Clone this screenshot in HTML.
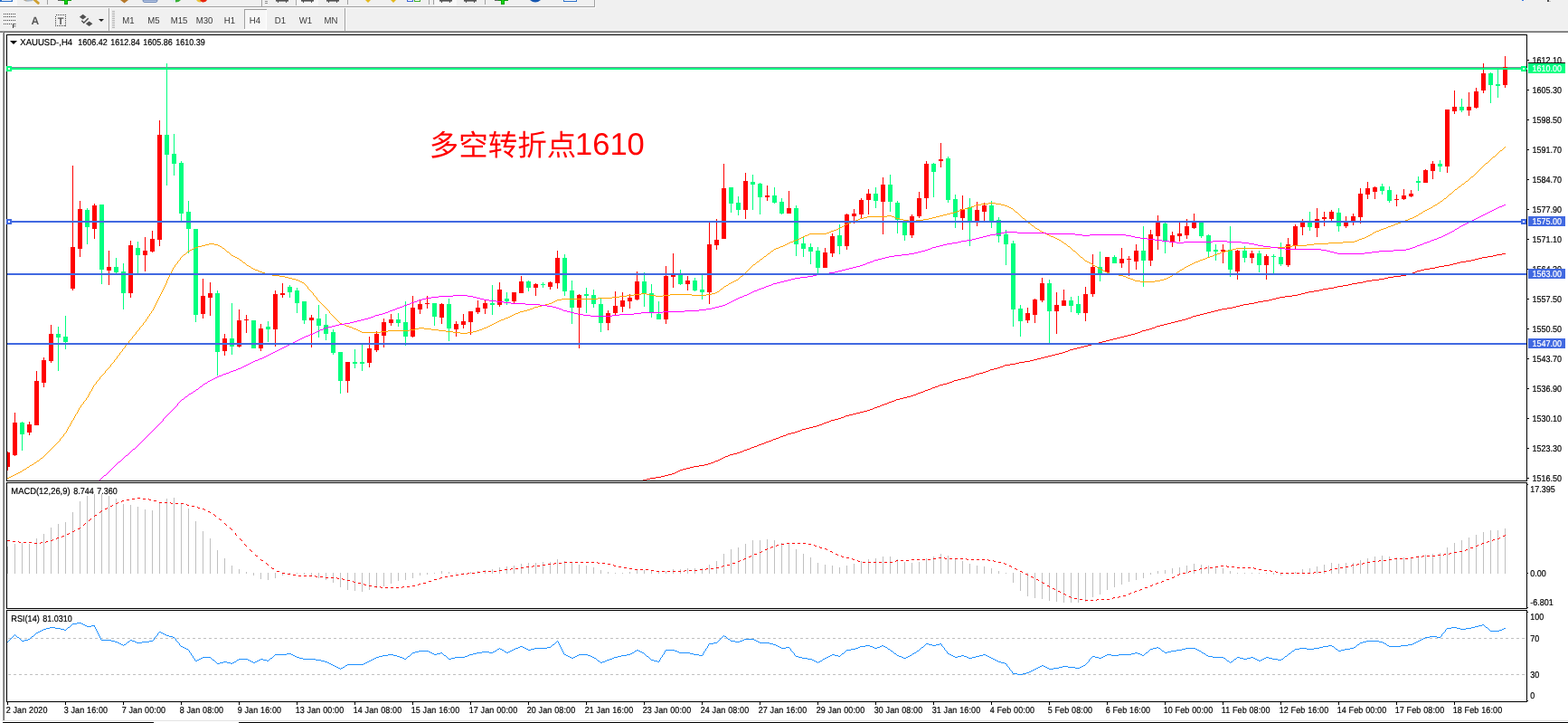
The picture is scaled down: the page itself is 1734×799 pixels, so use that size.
<!DOCTYPE html>
<html lang="zh"><head><meta charset="utf-8"><title>XAUUSD-,H4</title>
<style>
html,body{margin:0;padding:0;background:#f0f0f0}
body{width:1734px;height:799px;overflow:hidden;position:relative}
svg{display:block;position:absolute;left:0;top:0;font-family:"Liberation Sans","Noto Sans CJK SC",sans-serif;font-size:9px;text-rendering:geometricPrecision}
</style></head>
<body>
<svg width="1734" height="799" viewBox="0 0 1734 799">
<rect x="0" y="0" width="1734" height="799" fill="#f0f0f0"/>
<rect x="0" y="7" width="658" height="1" fill="#a0a0a0"/>
<rect x="0" y="8" width="659" height="1" fill="#fafafa"/>
<rect x="657" y="0" width="1" height="8" fill="#a0a0a0"/>
<rect x="658" y="0" width="1" height="9" fill="#fafafa"/>
<rect x="0" y="33" width="1734" height="1" fill="#f6f6f6"/>
<rect x="1683" y="0" width="2" height="1" fill="#3a78e0"/>
<rect x="1711" y="0" width="2" height="2" fill="#505050"/>
<rect x="1713" y="1" width="2" height="1" fill="#c0c0c0"/>
<rect x="0" y="34" width="1734" height="1" fill="#a0a0a0"/>
<rect x="0" y="35" width="1734" height="1" fill="#696969"/>
<rect x="0" y="36" width="3" height="761" fill="#fbfbfb"/>
<rect x="3" y="35" width="1" height="762" fill="#a0a0a0"/>
<rect x="4" y="35" width="1" height="762" fill="#696969"/>
<rect x="5" y="36" width="1729" height="761" fill="#ffffff"/>
<rect x="2" y="796" width="1732" height="1" fill="#e3e3e3"/>
<rect x="0" y="797" width="1734" height="2" fill="#ffffff"/>
<rect x="3" y="798" width="167" height="1" fill="#000"/>
<rect x="264" y="798" width="1470" height="1" fill="#000"/>
<g id="toolbar1">
<rect x="0" y="0" width="19" height="6" fill="#f8f8f8"/>
<rect x="0" y="0" width="14" height="2" fill="#2a6fc9"/>
<rect x="2" y="0" width="10.7" height="0.9" fill="#ffffff"/>
<path d="M26 0q2.500 2 6 1.600q3.500 0 5.500-1.600z" fill="#a8b8c8"/><path d="M26 0q1.500 1.300 3.500 1.500v-1.500z" fill="#b4a890"/>
<path d="M38.300 0l4 3.400" stroke="#cfa032" stroke-width="2.800" stroke-linecap="round"/>
<rect x="52" y="0" width="1" height="5" fill="#a0a0a0"/>
<rect x="64" y="0" width="15" height="1" fill="#0a9a0a"/>
<rect x="71" y="0" width="4" height="5" fill="#08a008"/>
<rect x="72" y="0" width="2" height="4" fill="#10d810"/>
<rect x="64" y="0" width="4" height="1" fill="#606060"/>
<path d="M133 0h9l-4.5 3.5z" fill="#b5782a"/>
<path d="M158 0v0.5q0 2 2 2h12q2 0 2-2v-0.5z" fill="#b6c6e4" stroke="#5b78ad" stroke-width="0.8"/>
<path d="M188 0q3 3 6 2.5v-2.5z" fill="#e4ecf8"/><path d="M194 0v2.5q4 0 6-2.5z" fill="#35b035"/>
<path d="M217 0q2 3 5 2.5v-2.5z" fill="#e8c43a"/><path d="M221 0q2 3 4 2.5q3 -0.3 4-2.5z" fill="#e8240c"/>
<rect x="289" y="0" width="1" height="8" fill="#a0a0a0"/>
<rect x="293" y="1" width="3" height="1" fill="#909090"/>
<rect x="293" y="3" width="3" height="1" fill="#909090"/>
<rect x="305" y="0" width="14" height="1.6" fill="#505050"/>
<rect x="307" y="1" width="1" height="2" fill="#505050"/>
<rect x="316" y="1" width="1" height="2" fill="#505050"/>
<rect x="327" y="0" width="25" height="6" fill="#f8f8f8"/>
<rect x="327" y="0" width="1" height="6" fill="#a8a8a8"/>
<rect x="333" y="0" width="14" height="1.6" fill="#505050"/>
<rect x="335" y="1" width="1" height="2" fill="#505050"/>
<rect x="344" y="1" width="1" height="2" fill="#505050"/>
<rect x="361" y="0" width="14" height="1.6" fill="#505050"/>
<rect x="363" y="1" width="1" height="2" fill="#505050"/>
<rect x="372" y="1" width="1" height="2" fill="#505050"/>
<rect x="384" y="0" width="1" height="5" fill="#a0a0a0"/>
<path d="M404 0h6l-3 3z" fill="#e3b81c"/>
<path d="M432 0h6l-3 3z" fill="#e3b81c"/>
<rect x="450" y="0" width="7" height="2" fill="#3a66d8"/>
<rect x="451" y="0" width="5" height="1" fill="#ffffff"/>
<rect x="458" y="0" width="7" height="2" fill="#3fae2a"/>
<rect x="459" y="0" width="5" height="1" fill="#ffffff"/>
<rect x="474" y="0" width="1" height="5" fill="#a0a0a0"/>
<rect x="479" y="0" width="1" height="5" fill="#a0a0a0"/>
<rect x="481" y="0" width="24" height="6" fill="#f8f8f8"/>
<rect x="486" y="0" width="14" height="1.6" fill="#505050"/>
<rect x="488" y="1" width="1" height="2" fill="#505050"/>
<rect x="497" y="1" width="1" height="2" fill="#505050"/>
<rect x="513" y="0" width="14" height="1.6" fill="#505050"/>
<rect x="515" y="1" width="1" height="2" fill="#505050"/>
<rect x="524" y="1" width="1" height="2" fill="#505050"/>
<rect x="536" y="0" width="1" height="5" fill="#a0a0a0"/>
<rect x="547" y="0" width="15" height="1" fill="#0a9a0a"/>
<rect x="554" y="0" width="4" height="5" fill="#08a008"/>
<rect x="555" y="0" width="2" height="4" fill="#10d810"/>
<rect x="547" y="0" width="4" height="1" fill="#606060"/>
<path d="M586 0q6 5 12 0z" fill="#1556b0"/>
<rect x="623" y="0" width="15" height="2" fill="#2a6fc9"/>
<rect x="624" y="0" width="13" height="1" fill="#ffffff"/>
</g>
<g id="toolbar2">
<line x1="4" y1="15.5" x2="17" y2="15.5" stroke="#404040" stroke-width="1" stroke-dasharray="1 1" shape-rendering="crispEdges"/>
<line x1="4" y1="18.5" x2="17" y2="18.5" stroke="#404040" stroke-width="1" stroke-dasharray="1 1" shape-rendering="crispEdges"/>
<line x1="4" y1="22.5" x2="17" y2="22.5" stroke="#404040" stroke-width="1" stroke-dasharray="1 1" shape-rendering="crispEdges"/>
<line x1="4" y1="26.5" x2="13" y2="26.5" stroke="#404040" stroke-width="1" stroke-dasharray="1 1" shape-rendering="crispEdges"/>
<text x="13.5" y="31" font-size="7" font-weight="bold" fill="#404040">F</text>
<text x="34.5" y="27" font-size="12" font-weight="bold" fill="#5a5a5a">A</text>
<rect x="61.5" y="16.5" width="11" height="12" fill="none" stroke="#404040" stroke-dasharray="1 1" shape-rendering="crispEdges"/>
<text x="67" y="27" font-size="11" font-weight="bold" fill="#5a5a5a" text-anchor="middle">T</text>
<path d="M91.700 15.800l3.800 2.900l-3.800 2.900l-3.800-2.900z" fill="#505050"/>
<path d="M98.600 23.400l3.800 2.800l-3.800 2.800l-3.800-2.800z" fill="#505050"/>
<path d="M90.300 22.800l2.400 2.400l5-5" fill="none" stroke="#505050" stroke-width="1.500"/>
<path d="M109 21h6l-3 3z" fill="#202020"/>
<rect x="120" y="9" width="1" height="25" fill="#a0a0a0"/>
<rect x="121" y="9" width="1" height="25" fill="#fafafa"/>
<rect x="124" y="12" width="3" height="1" fill="#b4b4b4"/>
<rect x="124" y="14" width="3" height="1" fill="#b4b4b4"/>
<rect x="124" y="16" width="3" height="1" fill="#b4b4b4"/>
<rect x="124" y="18" width="3" height="1" fill="#b4b4b4"/>
<rect x="124" y="20" width="3" height="1" fill="#b4b4b4"/>
<rect x="124" y="22" width="3" height="1" fill="#b4b4b4"/>
<rect x="124" y="24" width="3" height="1" fill="#b4b4b4"/>
<rect x="124" y="26" width="3" height="1" fill="#b4b4b4"/>
<rect x="124" y="28" width="3" height="1" fill="#b4b4b4"/>
<rect x="124" y="30" width="3" height="1" fill="#b4b4b4"/>
<rect x="270" y="11" width="25" height="21" fill="#f7f7f7"/>
<rect x="270" y="10" width="25" height="1" fill="#a0a0a0"/>
<rect x="270" y="10" width="1" height="22" fill="#a0a0a0"/>
<rect x="294" y="11" width="1" height="21" fill="#ffffff"/>
<rect x="270" y="32" width="25" height="1" fill="#ffffff"/>
<text x="142" y="26" font-size="9.6" fill="#3a3a3a" text-anchor="middle" transform="translate(0 -1.3) scale(1 1.05)">M1</text>
<text x="170" y="26" font-size="9.6" fill="#3a3a3a" text-anchor="middle" transform="translate(0 -1.3) scale(1 1.05)">M5</text>
<text x="198" y="26" font-size="9.6" fill="#3a3a3a" text-anchor="middle" transform="translate(0 -1.3) scale(1 1.05)">M15</text>
<text x="226" y="26" font-size="9.6" fill="#3a3a3a" text-anchor="middle" transform="translate(0 -1.3) scale(1 1.05)">M30</text>
<text x="254" y="26" font-size="9.6" fill="#3a3a3a" text-anchor="middle" transform="translate(0 -1.3) scale(1 1.05)">H1</text>
<text x="282" y="26" font-size="9.6" fill="#3a3a3a" text-anchor="middle" transform="translate(0 -1.3) scale(1 1.05)">H4</text>
<text x="310" y="26" font-size="9.6" fill="#3a3a3a" text-anchor="middle" transform="translate(0 -1.3) scale(1 1.05)">D1</text>
<text x="338" y="26" font-size="9.6" fill="#3a3a3a" text-anchor="middle" transform="translate(0 -1.3) scale(1 1.05)">W1</text>
<text x="366" y="26" font-size="9.6" fill="#3a3a3a" text-anchor="middle" transform="translate(0 -1.3) scale(1 1.05)">MN</text>
<rect x="381" y="9" width="1" height="25" fill="#a0a0a0"/>
<rect x="382" y="9" width="1" height="25" fill="#fafafa"/>
</g>
<g id="frames" fill="#000">
<rect x="7" y="38" width="1682" height="1" fill="#000"/>
<rect x="7" y="38" width="1" height="738" fill="#000"/>
<rect x="1688" y="38" width="1" height="738" fill="#000"/>
<rect x="7" y="531" width="1682" height="1" fill="#000"/>
<rect x="7" y="532" width="1682" height="1" fill="#fff"/>
<rect x="7" y="533" width="1682" height="1" fill="#000"/>
<rect x="7" y="672" width="1682" height="1" fill="#000"/>
<rect x="7" y="673" width="1682" height="1" fill="#fff"/>
<rect x="7" y="674" width="1682" height="1" fill="#000"/>
<rect x="7" y="775" width="1682" height="1" fill="#000"/>
</g>
<rect x="8" y="74" width="1680" height="1" fill="#778899"/>
<g id="candles" shape-rendering="crispEdges">
<path d="M8 499h1v21h-1zM8 500h3v16h-3z" fill="#ff0000"/>
<path d="M16 456h1v48h-1zM14 467h5v36h-5z" fill="#ff0000"/>
<path d="M24 466h1v32h-1zM22 467h5v13h-5z" fill="#00ff7f"/>
<path d="M32 466h1v15h-1zM30 469h5v9h-5z" fill="#ff0000"/>
<path d="M40 410h1v60h-1zM38 421h5v49h-5z" fill="#ff0000"/>
<path d="M48 395h1v33h-1zM46 398h5v25h-5z" fill="#ff0000"/>
<path d="M56 359h1v42h-1zM54 369h5v30h-5z" fill="#ff0000"/>
<path d="M64 361h1v49h-1zM62 369h5v4h-5z" fill="#00ff7f"/>
<path d="M72 349h1v37h-1zM70 372h5v6h-5z" fill="#00ff7f"/>
<path d="M80 183h1v138h-1zM78 273h5v46h-5z" fill="#ff0000"/>
<path d="M88 222h1v62h-1zM86 231h5v44h-5z" fill="#ff0000"/>
<path d="M96 230h1v40h-1zM94 232h5v19h-5z" fill="#00ff7f"/>
<path d="M104 225h1v39h-1zM102 227h5v26h-5z" fill="#ff0000"/>
<path d="M112 226h1v88h-1zM110 226h5v72h-5z" fill="#00ff7f"/>
<path d="M120 277h1v38h-1zM118 295h5v4h-5z" fill="#ff0000"/>
<path d="M128 285h1v18h-1zM126 295h5v6h-5z" fill="#00ff7f"/>
<path d="M136 291h1v51h-1zM134 300h5v24h-5z" fill="#00ff7f"/>
<path d="M144 266h1v63h-1zM142 271h5v53h-5z" fill="#ff0000"/>
<path d="M152 267h1v35h-1zM150 274h5v8h-5z" fill="#00ff7f"/>
<path d="M160 262h1v38h-1zM158 277h5v5h-5z" fill="#ff0000"/>
<path d="M168 255h1v24h-1zM166 264h5v14h-5z" fill="#ff0000"/>
<path d="M176 133h1v139h-1zM174 149h5v116h-5z" fill="#ff0000"/>
<path d="M184 70h1v135h-1zM182 149h5v22h-5z" fill="#00ff7f"/>
<path d="M192 148h1v46h-1zM190 170h5v11h-5z" fill="#00ff7f"/>
<path d="M200 178h1v66h-1zM198 180h5v56h-5z" fill="#00ff7f"/>
<path d="M208 222h1v58h-1zM206 234h5v19h-5z" fill="#00ff7f"/>
<path d="M216 253h1v103h-1zM214 253h5v95h-5z" fill="#00ff7f"/>
<path d="M224 308h1v44h-1zM222 327h5v20h-5z" fill="#ff0000"/>
<path d="M232 312h1v37h-1zM230 324h5v5h-5z" fill="#ff0000"/>
<path d="M240 321h1v94h-1zM238 324h5v65h-5z" fill="#00ff7f"/>
<path d="M248 369h1v24h-1zM246 374h5v14h-5z" fill="#ff0000"/>
<path d="M256 335h1v57h-1zM254 374h5v9h-5z" fill="#00ff7f"/>
<path d="M264 342h1v42h-1zM262 354h5v29h-5z" fill="#ff0000"/>
<path d="M272 348h1v20h-1zM270 353h5v1h-5z" fill="#ff0000"/>
<path d="M280 354h1v31h-1zM278 354h5v31h-5z" fill="#00ff7f"/>
<path d="M288 358h1v30h-1zM286 363h5v22h-5z" fill="#ff0000"/>
<path d="M296 355h1v23h-1zM294 361h5v3h-5z" fill="#00ff7f"/>
<path d="M304 321h1v62h-1zM302 325h5v39h-5z" fill="#ff0000"/>
<path d="M312 313h1v16h-1zM310 324h5v2h-5z" fill="#ff0000"/>
<path d="M320 315h1v14h-1zM318 317h5v6h-5z" fill="#00ff7f"/>
<path d="M328 318h1v28h-1zM326 321h5v14h-5z" fill="#00ff7f"/>
<path d="M336 333h1v25h-1zM334 333h5v21h-5z" fill="#00ff7f"/>
<path d="M344 348h1v36h-1zM342 351h5v3h-5z" fill="#ff0000"/>
<path d="M352 337h1v36h-1zM350 352h5v8h-5z" fill="#00ff7f"/>
<path d="M360 347h1v29h-1zM358 359h5v10h-5z" fill="#00ff7f"/>
<path d="M368 364h1v28h-1zM366 367h5v23h-5z" fill="#00ff7f"/>
<path d="M376 389h1v46h-1zM374 389h5v32h-5z" fill="#00ff7f"/>
<path d="M384 400h1v34h-1zM382 400h5v21h-5z" fill="#ff0000"/>
<path d="M392 386h1v21h-1zM390 400h5v2h-5z" fill="#00ff7f"/>
<path d="M400 380h1v30h-1zM398 400h5v2h-5z" fill="#00ff7f"/>
<path d="M408 372h1v34h-1zM406 385h5v16h-5z" fill="#ff0000"/>
<path d="M416 366h1v23h-1zM414 369h5v18h-5z" fill="#ff0000"/>
<path d="M424 352h1v32h-1zM422 356h5v15h-5z" fill="#ff0000"/>
<path d="M432 347h1v13h-1zM430 353h5v4h-5z" fill="#ff0000"/>
<path d="M440 346h1v15h-1zM438 353h5v4h-5z" fill="#00ff7f"/>
<path d="M448 333h1v49h-1zM446 356h5v16h-5z" fill="#00ff7f"/>
<path d="M456 327h1v46h-1zM454 340h5v32h-5z" fill="#ff0000"/>
<path d="M464 332h1v15h-1zM462 336h5v6h-5z" fill="#ff0000"/>
<path d="M472 327h1v14h-1zM470 335h5v1h-5z" fill="#ff0000"/>
<path d="M480 335h1v25h-1zM478 335h5v15h-5z" fill="#00ff7f"/>
<path d="M488 335h1v23h-1zM486 336h5v15h-5z" fill="#ff0000"/>
<path d="M496 330h1v47h-1zM494 336h5v27h-5z" fill="#00ff7f"/>
<path d="M504 355h1v17h-1zM502 358h5v6h-5z" fill="#ff0000"/>
<path d="M512 347h1v16h-1zM510 355h5v4h-5z" fill="#ff0000"/>
<path d="M520 344h1v26h-1zM518 344h5v12h-5z" fill="#ff0000"/>
<path d="M528 332h1v15h-1zM526 340h5v5h-5z" fill="#ff0000"/>
<path d="M536 331h1v16h-1zM534 335h5v6h-5z" fill="#ff0000"/>
<path d="M544 315h1v33h-1zM542 335h5v2h-5z" fill="#00ff7f"/>
<path d="M552 312h1v27h-1zM550 320h5v17h-5z" fill="#ff0000"/>
<path d="M560 323h1v14h-1zM558 330h5v3h-5z" fill="#00ff7f"/>
<path d="M568 323h1v12h-1zM566 323h5v10h-5z" fill="#ff0000"/>
<path d="M576 305h1v19h-1zM574 311h5v13h-5z" fill="#ff0000"/>
<path d="M584 310h1v12h-1zM582 311h5v7h-5z" fill="#00ff7f"/>
<path d="M592 313h1v14h-1zM590 314h5v4h-5z" fill="#ff0000"/>
<path d="M600 312h1v6h-1zM598 314h5v1h-5z" fill="#00ff7f"/>
<path d="M608 311h1v9h-1zM606 312h5v5h-5z" fill="#ff0000"/>
<path d="M616 277h1v42h-1zM614 285h5v28h-5z" fill="#ff0000"/>
<path d="M624 281h1v46h-1zM622 285h5v37h-5z" fill="#00ff7f"/>
<path d="M632 310h1v48h-1zM630 321h5v19h-5z" fill="#00ff7f"/>
<path d="M640 325h1v60h-1zM638 326h5v14h-5z" fill="#ff0000"/>
<path d="M648 318h1v28h-1zM646 325h5v2h-5z" fill="#00ff7f"/>
<path d="M656 320h1v20h-1zM654 326h5v10h-5z" fill="#00ff7f"/>
<path d="M664 330h1v37h-1zM662 336h5v21h-5z" fill="#00ff7f"/>
<path d="M672 343h1v22h-1zM670 346h5v11h-5z" fill="#ff0000"/>
<path d="M680 322h1v26h-1zM678 338h5v8h-5z" fill="#ff0000"/>
<path d="M688 323h1v22h-1zM686 332h5v7h-5z" fill="#ff0000"/>
<path d="M696 325h1v16h-1zM694 329h5v4h-5z" fill="#ff0000"/>
<path d="M704 300h1v32h-1zM702 311h5v20h-5z" fill="#ff0000"/>
<path d="M712 301h1v38h-1zM710 311h5v14h-5z" fill="#00ff7f"/>
<path d="M720 314h1v37h-1zM718 324h5v22h-5z" fill="#00ff7f"/>
<path d="M728 333h1v20h-1zM726 347h5v6h-5z" fill="#00ff7f"/>
<path d="M736 294h1v64h-1zM734 305h5v48h-5z" fill="#ff0000"/>
<path d="M744 280h1v38h-1zM742 304h5v2h-5z" fill="#ff0000"/>
<path d="M752 298h1v17h-1zM750 304h5v10h-5z" fill="#00ff7f"/>
<path d="M760 305h1v16h-1zM758 310h5v4h-5z" fill="#ff0000"/>
<path d="M768 307h1v15h-1zM766 310h5v11h-5z" fill="#00ff7f"/>
<path d="M776 304h1v27h-1zM774 320h5v3h-5z" fill="#00ff7f"/>
<path d="M784 246h1v90h-1zM782 270h5v53h-5z" fill="#ff0000"/>
<path d="M792 242h1v34h-1zM790 265h5v6h-5z" fill="#ff0000"/>
<path d="M800 181h1v83h-1zM798 208h5v56h-5z" fill="#ff0000"/>
<path d="M808 207h1v28h-1zM806 207h5v18h-5z" fill="#00ff7f"/>
<path d="M816 217h1v21h-1zM814 224h5v8h-5z" fill="#00ff7f"/>
<path d="M824 191h1v51h-1zM822 200h5v32h-5z" fill="#ff0000"/>
<path d="M832 193h1v39h-1zM830 201h5v3h-5z" fill="#00ff7f"/>
<path d="M840 202h1v35h-1zM838 203h5v15h-5z" fill="#00ff7f"/>
<path d="M848 205h1v17h-1zM846 216h5v2h-5z" fill="#ff0000"/>
<path d="M856 207h1v18h-1zM854 216h5v8h-5z" fill="#00ff7f"/>
<path d="M864 219h1v18h-1zM862 223h5v13h-5z" fill="#00ff7f"/>
<path d="M872 211h1v25h-1zM870 230h5v6h-5z" fill="#ff0000"/>
<path d="M880 227h1v56h-1zM878 230h5v40h-5z" fill="#00ff7f"/>
<path d="M888 261h1v23h-1zM886 269h5v6h-5z" fill="#00ff7f"/>
<path d="M896 269h1v23h-1zM894 273h5v5h-5z" fill="#00ff7f"/>
<path d="M904 273h1v29h-1zM902 277h5v19h-5z" fill="#00ff7f"/>
<path d="M912 274h1v22h-1zM910 279h5v17h-5z" fill="#ff0000"/>
<path d="M920 258h1v26h-1zM918 261h5v19h-5z" fill="#ff0000"/>
<path d="M928 248h1v33h-1zM926 260h5v12h-5z" fill="#00ff7f"/>
<path d="M936 236h1v40h-1zM934 237h5v35h-5z" fill="#ff0000"/>
<path d="M944 231h1v16h-1zM942 236h5v3h-5z" fill="#ff0000"/>
<path d="M952 219h1v22h-1zM950 221h5v16h-5z" fill="#ff0000"/>
<path d="M960 209h1v28h-1zM958 214h5v7h-5z" fill="#ff0000"/>
<path d="M968 207h1v23h-1zM966 214h5v8h-5z" fill="#00ff7f"/>
<path d="M976 196h1v63h-1zM974 204h5v19h-5z" fill="#ff0000"/>
<path d="M984 193h1v41h-1zM982 204h5v19h-5z" fill="#00ff7f"/>
<path d="M992 222h1v36h-1zM990 224h5v19h-5z" fill="#00ff7f"/>
<path d="M1000 245h1v21h-1zM998 245h5v15h-5z" fill="#00ff7f"/>
<path d="M1008 237h1v26h-1zM1006 239h5v21h-5z" fill="#ff0000"/>
<path d="M1016 212h1v29h-1zM1014 219h5v20h-5z" fill="#ff0000"/>
<path d="M1024 178h1v53h-1zM1022 181h5v38h-5z" fill="#ff0000"/>
<path d="M1032 180h1v38h-1zM1030 181h5v9h-5z" fill="#00ff7f"/>
<path d="M1040 158h1v27h-1zM1038 176h5v2h-5z" fill="#ff0000"/>
<path d="M1048 173h1v51h-1zM1046 175h5v46h-5z" fill="#00ff7f"/>
<path d="M1056 215h1v37h-1zM1054 220h5v20h-5z" fill="#00ff7f"/>
<path d="M1064 216h1v38h-1zM1062 231h5v10h-5z" fill="#ff0000"/>
<path d="M1072 219h1v53h-1zM1070 229h5v16h-5z" fill="#00ff7f"/>
<path d="M1080 223h1v27h-1zM1078 232h5v12h-5z" fill="#ff0000"/>
<path d="M1088 224h1v20h-1zM1086 227h5v7h-5z" fill="#ff0000"/>
<path d="M1096 222h1v30h-1zM1094 227h5v17h-5z" fill="#00ff7f"/>
<path d="M1104 240h1v28h-1zM1102 243h5v18h-5z" fill="#00ff7f"/>
<path d="M1112 254h1v39h-1zM1110 259h5v11h-5z" fill="#00ff7f"/>
<path d="M1120 266h1v95h-1zM1118 269h5v73h-5z" fill="#00ff7f"/>
<path d="M1128 337h1v35h-1zM1126 341h5v14h-5z" fill="#00ff7f"/>
<path d="M1136 340h1v17h-1zM1134 346h5v8h-5z" fill="#ff0000"/>
<path d="M1144 330h1v27h-1zM1142 331h5v17h-5z" fill="#ff0000"/>
<path d="M1152 307h1v27h-1zM1150 313h5v19h-5z" fill="#ff0000"/>
<path d="M1160 309h1v71h-1zM1158 313h5v31h-5z" fill="#00ff7f"/>
<path d="M1168 323h1v46h-1zM1166 337h5v7h-5z" fill="#ff0000"/>
<path d="M1176 320h1v18h-1zM1174 332h5v6h-5z" fill="#ff0000"/>
<path d="M1184 328h1v17h-1zM1182 332h5v6h-5z" fill="#00ff7f"/>
<path d="M1192 327h1v21h-1zM1190 336h5v10h-5z" fill="#00ff7f"/>
<path d="M1200 317h1v38h-1zM1198 325h5v21h-5z" fill="#ff0000"/>
<path d="M1208 281h1v47h-1zM1206 295h5v30h-5z" fill="#ff0000"/>
<path d="M1216 278h1v33h-1zM1214 295h5v8h-5z" fill="#00ff7f"/>
<path d="M1224 284h1v17h-1zM1222 284h5v17h-5z" fill="#ff0000"/>
<path d="M1232 282h1v9h-1zM1230 284h5v7h-5z" fill="#00ff7f"/>
<path d="M1240 274h1v22h-1zM1238 286h5v5h-5z" fill="#ff0000"/>
<path d="M1248 283h1v22h-1zM1246 286h5v1h-5z" fill="#ff0000"/>
<path d="M1256 270h1v28h-1zM1254 277h5v12h-5z" fill="#ff0000"/>
<path d="M1264 250h1v67h-1zM1262 277h5v11h-5z" fill="#00ff7f"/>
<path d="M1272 254h1v40h-1zM1270 259h5v29h-5z" fill="#ff0000"/>
<path d="M1280 238h1v38h-1zM1278 245h5v16h-5z" fill="#ff0000"/>
<path d="M1288 246h1v34h-1zM1286 247h5v20h-5z" fill="#00ff7f"/>
<path d="M1296 256h1v17h-1zM1294 260h5v8h-5z" fill="#ff0000"/>
<path d="M1304 245h1v22h-1zM1302 258h5v3h-5z" fill="#ff0000"/>
<path d="M1312 242h1v22h-1zM1310 250h5v10h-5z" fill="#ff0000"/>
<path d="M1320 236h1v17h-1zM1318 246h5v6h-5z" fill="#ff0000"/>
<path d="M1328 246h1v17h-1zM1326 246h5v15h-5z" fill="#00ff7f"/>
<path d="M1336 259h1v25h-1zM1334 260h5v18h-5z" fill="#00ff7f"/>
<path d="M1344 270h1v18h-1zM1342 276h5v2h-5z" fill="#00ff7f"/>
<path d="M1352 270h1v21h-1zM1350 276h5v2h-5z" fill="#ff0000"/>
<path d="M1360 250h1v56h-1zM1358 276h5v22h-5z" fill="#00ff7f"/>
<path d="M1368 276h1v33h-1zM1366 277h5v23h-5z" fill="#ff0000"/>
<path d="M1376 272h1v18h-1zM1374 277h5v8h-5z" fill="#00ff7f"/>
<path d="M1384 277h1v14h-1zM1382 280h5v5h-5z" fill="#ff0000"/>
<path d="M1392 277h1v24h-1zM1390 280h5v13h-5z" fill="#00ff7f"/>
<path d="M1400 281h1v28h-1zM1398 283h5v10h-5z" fill="#ff0000"/>
<path d="M1408 281h1v21h-1zM1406 283h5v1h-5z" fill="#00ff7f"/>
<path d="M1416 268h1v26h-1zM1414 284h5v8h-5z" fill="#00ff7f"/>
<path d="M1424 263h1v32h-1zM1422 270h5v23h-5z" fill="#ff0000"/>
<path d="M1432 248h1v28h-1zM1430 250h5v21h-5z" fill="#ff0000"/>
<path d="M1440 242h1v18h-1zM1438 246h5v5h-5z" fill="#ff0000"/>
<path d="M1448 234h1v21h-1zM1446 246h5v5h-5z" fill="#00ff7f"/>
<path d="M1456 230h1v32h-1zM1454 242h5v10h-5z" fill="#ff0000"/>
<path d="M1464 234h1v16h-1zM1462 240h5v2h-5z" fill="#ff0000"/>
<path d="M1472 232h1v12h-1zM1470 234h5v8h-5z" fill="#ff0000"/>
<path d="M1480 230h1v26h-1zM1478 235h5v15h-5z" fill="#00ff7f"/>
<path d="M1488 239h1v13h-1zM1486 246h5v4h-5z" fill="#ff0000"/>
<path d="M1496 236h1v13h-1zM1494 239h5v5h-5z" fill="#ff0000"/>
<path d="M1504 208h1v39h-1zM1502 214h5v26h-5z" fill="#ff0000"/>
<path d="M1512 201h1v19h-1zM1510 208h5v7h-5z" fill="#ff0000"/>
<path d="M1520 206h1v14h-1zM1518 207h5v5h-5z" fill="#ff0000"/>
<path d="M1528 203h1v12h-1zM1526 206h5v5h-5z" fill="#00ff7f"/>
<path d="M1536 206h1v18h-1zM1534 210h5v12h-5z" fill="#00ff7f"/>
<path d="M1544 215h1v13h-1zM1542 220h5v1h-5z" fill="#ff0000"/>
<path d="M1552 209h1v12h-1zM1550 216h5v4h-5z" fill="#ff0000"/>
<path d="M1560 210h1v8h-1zM1558 214h5v3h-5z" fill="#ff0000"/>
<path d="M1568 195h1v16h-1zM1566 200h5v2h-5z" fill="#00ff7f"/>
<path d="M1576 187h1v15h-1zM1574 188h5v14h-5z" fill="#ff0000"/>
<path d="M1584 178h1v20h-1zM1582 181h5v8h-5z" fill="#ff0000"/>
<path d="M1592 177h1v13h-1zM1590 181h5v3h-5z" fill="#00ff7f"/>
<path d="M1600 121h1v70h-1zM1598 121h5v63h-5z" fill="#ff0000"/>
<path d="M1608 100h1v26h-1zM1606 118h5v5h-5z" fill="#ff0000"/>
<path d="M1616 109h1v15h-1zM1614 118h5v4h-5z" fill="#00ff7f"/>
<path d="M1624 102h1v26h-1zM1622 118h5v4h-5z" fill="#ff0000"/>
<path d="M1632 97h1v23h-1zM1630 101h5v18h-5z" fill="#ff0000"/>
<path d="M1640 70h1v33h-1zM1638 81h5v19h-5z" fill="#ff0000"/>
<path d="M1648 80h1v34h-1zM1646 81h5v13h-5z" fill="#00ff7f"/>
<path d="M1656 77h1v31h-1zM1654 93h5v2h-5z" fill="#00ff7f"/>
<path d="M1664 62h1v35h-1zM1662 74h5v20h-5z" fill="#ff0000"/>
</g>
<g id="ma" shape-rendering="crispEdges">
<path d="M1664 162h1v1h-1zM1663 163h1v1h-1zM1662 164h1v1h-1zM1661 165h1v1h-1zM1659 166h2v1h-2zM1658 167h1v1h-1zM1657 168h1v1h-1zM1656 169h1v1h-1zM1655 170h1v1h-1zM1654 171h1v1h-1zM1653 172h1v1h-1zM1651 173h2v1h-2zM1650 174h1v1h-1zM1649 175h1v1h-1zM1648 176h1v1h-1zM1647 177h1v1h-1zM1646 178h1v1h-1zM1645 179h1v1h-1zM1643 180h2v1h-2zM1642 181h1v1h-1zM1641 182h1v1h-1zM1640 183h1v1h-1zM1639 184h1v1h-1zM1638 185h1v1h-1zM1637 186h1v1h-1zM1636 187h1v1h-1zM1635 188h1v1h-1zM1634 189h1v1h-1zM1633 190h1v1h-1zM1632 191h1v1h-1zM1631 192h1v1h-1zM1630 193h1v1h-1zM1629 194h1v1h-1zM1627 195h2v1h-2zM1626 196h1v1h-1zM1625 197h1v1h-1zM1624 198h1v1h-1zM1623 199h1v1h-1zM1621 200h2v1h-2zM1620 201h1v1h-1zM1619 202h1v1h-1zM1617 203h2v1h-2zM1616 204h1v1h-1zM1615 205h1v1h-1zM1613 206h2v1h-2zM1612 207h1v1h-1zM1611 208h1v1h-1zM1609 209h2v1h-2zM1608 210h1v1h-1zM1607 211h1v1h-1zM1606 212h1v1h-1zM1605 213h1v1h-1zM1603 214h2v1h-2zM1602 215h1v1h-1zM1601 216h1v1h-1zM1600 217h1v1h-1zM1599 218h1v1h-1zM1597 219h2v1h-2zM1596 220h1v1h-1zM1595 221h1v1h-1zM1593 222h2v1h-2zM1592 223h1v1h-1zM1093 224h8v1h-8zM1590 224h2v1h-2zM1085 225h8v1h-8zM1101 225h6v1h-6zM1589 225h1v1h-1zM1079 226h6v1h-6zM1107 226h4v1h-4zM1587 226h2v1h-2zM1077 227h2v1h-2zM1111 227h3v1h-3zM1585 227h2v1h-2zM1074 228h3v1h-3zM1114 228h2v1h-2zM1584 228h1v1h-1zM1071 229h3v1h-3zM1116 229h2v1h-2zM1582 229h2v1h-2zM1067 230h4v1h-4zM1118 230h2v1h-2zM1580 230h2v1h-2zM1063 231h4v1h-4zM1120 231h1v1h-1zM1578 231h2v1h-2zM1061 232h2v1h-2zM1121 232h1v1h-1zM1576 232h2v1h-2zM1058 233h3v1h-3zM1122 233h1v1h-1zM1574 233h2v1h-2zM1055 234h3v1h-3zM1123 234h2v1h-2zM1573 234h1v1h-1zM1051 235h4v1h-4zM1125 235h1v1h-1zM1571 235h2v1h-2zM1047 236h4v1h-4zM1126 236h1v1h-1zM1569 236h2v1h-2zM1043 237h4v1h-4zM1127 237h1v1h-1zM1568 237h1v1h-1zM981 238h5v1h-5zM1039 238h4v1h-4zM1128 238h1v1h-1zM1566 238h2v1h-2zM959 239h22v1h-22zM986 239h3v1h-3zM1035 239h4v1h-4zM1129 239h1v1h-1zM1564 239h2v1h-2zM955 240h4v1h-4zM989 240h2v1h-2zM1031 240h4v1h-4zM1130 240h1v1h-1zM1562 240h2v1h-2zM951 241h4v1h-4zM991 241h4v1h-4zM1027 241h4v1h-4zM1131 241h2v1h-2zM1559 241h3v1h-3zM949 242h2v1h-2zM995 242h4v1h-4zM1021 242h6v1h-6zM1133 242h1v1h-1zM1557 242h2v1h-2zM946 243h3v1h-3zM999 243h6v1h-6zM1013 243h8v1h-8zM1134 243h1v1h-1zM1554 243h3v1h-3zM943 244h3v1h-3zM1005 244h8v1h-8zM1135 244h1v1h-1zM1551 244h3v1h-3zM941 245h2v1h-2zM1136 245h1v1h-1zM1549 245h2v1h-2zM938 246h3v1h-3zM1137 246h2v1h-2zM1546 246h3v1h-3zM936 247h2v1h-2zM1139 247h1v1h-1zM1543 247h3v1h-3zM934 248h2v1h-2zM1140 248h1v1h-1zM1541 248h2v1h-2zM933 249h1v1h-1zM1141 249h2v1h-2zM1538 249h3v1h-3zM931 250h2v1h-2zM1143 250h1v1h-1zM1535 250h3v1h-3zM929 251h2v1h-2zM1144 251h1v1h-1zM1533 251h2v1h-2zM927 252h2v1h-2zM1145 252h2v1h-2zM1530 252h3v1h-3zM925 253h2v1h-2zM1147 253h2v1h-2zM1527 253h3v1h-3zM922 254h3v1h-3zM1149 254h1v1h-1zM1525 254h2v1h-2zM919 255h3v1h-3zM1150 255h2v1h-2zM1522 255h3v1h-3zM917 256h2v1h-2zM1152 256h2v1h-2zM1520 256h2v1h-2zM914 257h3v1h-3zM1154 257h2v1h-2zM1518 257h2v1h-2zM895 258h19v1h-19zM1156 258h2v1h-2zM1517 258h1v1h-1zM893 259h2v1h-2zM1158 259h2v1h-2zM1515 259h2v1h-2zM890 260h3v1h-3zM1160 260h2v1h-2zM1513 260h2v1h-2zM888 261h2v1h-2zM1162 261h3v1h-3zM1511 261h2v1h-2zM886 262h2v1h-2zM1165 262h2v1h-2zM1509 262h2v1h-2zM884 263h2v1h-2zM1167 263h2v1h-2zM1506 263h3v1h-3zM882 264h2v1h-2zM1169 264h2v1h-2zM1503 264h3v1h-3zM879 265h3v1h-3zM1171 265h2v1h-2zM1501 265h2v1h-2zM877 266h2v1h-2zM1173 266h1v1h-1zM1498 266h3v1h-3zM874 267h3v1h-3zM1174 267h2v1h-2zM1485 267h13v1h-13zM872 268h2v1h-2zM1176 268h1v1h-1zM1469 268h16v1h-16zM231 269h6v1h-6zM870 269h2v1h-2zM1177 269h2v1h-2zM1453 269h16v1h-16zM227 270h4v1h-4zM237 270h4v1h-4zM868 270h2v1h-2zM1179 270h1v1h-1zM1445 270h8v1h-8zM223 271h4v1h-4zM241 271h2v1h-2zM866 271h2v1h-2zM1180 271h1v1h-1zM1429 271h16v1h-16zM219 272h4v1h-4zM243 272h2v1h-2zM863 272h3v1h-3zM1181 272h2v1h-2zM1421 272h8v1h-8zM216 273h3v1h-3zM245 273h1v1h-1zM861 273h2v1h-2zM1183 273h1v1h-1zM1405 273h16v1h-16zM214 274h2v1h-2zM246 274h2v1h-2zM858 274h3v1h-3zM1184 274h1v1h-1zM1367 274h38v1h-38zM212 275h2v1h-2zM248 275h1v1h-1zM856 275h2v1h-2zM1185 275h1v1h-1zM1363 275h4v1h-4zM210 276h2v1h-2zM249 276h1v1h-1zM855 276h1v1h-1zM1186 276h1v1h-1zM1359 276h4v1h-4zM208 277h2v1h-2zM250 277h1v1h-1zM853 277h2v1h-2zM1187 277h2v1h-2zM1355 277h4v1h-4zM207 278h1v1h-1zM251 278h2v1h-2zM852 278h1v1h-1zM1189 278h1v1h-1zM1351 278h4v1h-4zM206 279h1v1h-1zM253 279h1v1h-1zM851 279h1v1h-1zM1190 279h1v1h-1zM1349 279h2v1h-2zM205 280h1v1h-1zM254 280h1v1h-1zM849 280h2v1h-2zM1191 280h1v1h-1zM1346 280h3v1h-3zM203 281h2v1h-2zM255 281h1v1h-1zM848 281h1v1h-1zM1192 281h1v1h-1zM1343 281h3v1h-3zM202 282h1v1h-1zM256 282h2v1h-2zM847 282h1v1h-1zM1193 282h1v1h-1zM1341 282h2v1h-2zM201 283h1v1h-1zM258 283h2v1h-2zM845 283h2v1h-2zM1194 283h1v1h-1zM1338 283h3v1h-3zM200 284h1v1h-1zM260 284h2v1h-2zM844 284h1v1h-1zM1195 284h2v1h-2zM1335 284h3v1h-3zM199 285h1v1h-1zM262 285h2v1h-2zM843 285h1v1h-1zM1197 285h1v1h-1zM1333 285h2v1h-2zM199 286h1v1h-1zM264 286h1v1h-1zM841 286h2v1h-2zM1198 286h1v1h-1zM1330 286h3v1h-3zM198 287h1v1h-1zM265 287h2v1h-2zM840 287h1v1h-1zM1199 287h1v1h-1zM1327 287h3v1h-3zM197 288h1v1h-1zM267 288h1v1h-1zM839 288h1v1h-1zM1200 288h2v1h-2zM1325 288h2v1h-2zM196 289h1v1h-1zM268 289h1v1h-1zM837 289h2v1h-2zM1202 289h2v1h-2zM1322 289h3v1h-3zM196 290h1v1h-1zM269 290h2v1h-2zM836 290h1v1h-1zM1204 290h2v1h-2zM1320 290h2v1h-2zM195 291h1v1h-1zM271 291h1v1h-1zM835 291h1v1h-1zM1206 291h2v1h-2zM1318 291h2v1h-2zM194 292h1v1h-1zM272 292h1v1h-1zM833 292h2v1h-2zM1208 292h1v1h-1zM1316 292h2v1h-2zM193 293h1v1h-1zM273 293h2v1h-2zM832 293h1v1h-1zM1209 293h2v1h-2zM1314 293h2v1h-2zM193 294h1v1h-1zM275 294h2v1h-2zM831 294h1v1h-1zM1211 294h2v1h-2zM1312 294h2v1h-2zM192 295h1v1h-1zM277 295h1v1h-1zM830 295h1v1h-1zM1213 295h1v1h-1zM1310 295h2v1h-2zM191 296h1v1h-1zM278 296h2v1h-2zM829 296h1v1h-1zM1214 296h2v1h-2zM1309 296h1v1h-1zM191 297h1v1h-1zM280 297h2v1h-2zM828 297h1v1h-1zM1216 297h2v1h-2zM1307 297h2v1h-2zM190 298h1v1h-1zM282 298h3v1h-3zM827 298h1v1h-1zM1218 298h2v1h-2zM1305 298h2v1h-2zM190 299h1v1h-1zM285 299h2v1h-2zM826 299h1v1h-1zM1220 299h2v1h-2zM1304 299h1v1h-1zM189 300h1v1h-1zM287 300h3v1h-3zM825 300h1v1h-1zM1222 300h2v1h-2zM1302 300h2v1h-2zM189 301h1v1h-1zM290 301h3v1h-3zM824 301h1v1h-1zM1224 301h3v1h-3zM1301 301h1v1h-1zM188 302h1v1h-1zM293 302h2v1h-2zM823 302h1v1h-1zM1227 302h4v1h-4zM1299 302h2v1h-2zM188 303h1v1h-1zM295 303h6v1h-6zM822 303h1v1h-1zM1231 303h6v1h-6zM1297 303h2v1h-2zM187 304h1v1h-1zM301 304h8v1h-8zM821 304h1v1h-1zM1237 304h5v1h-5zM1296 304h1v1h-1zM187 305h1v1h-1zM309 305h6v1h-6zM819 305h2v1h-2zM1242 305h3v1h-3zM1294 305h2v1h-2zM186 306h1v1h-1zM315 306h4v1h-4zM818 306h1v1h-1zM1245 306h2v1h-2zM1292 306h2v1h-2zM186 307h1v1h-1zM319 307h4v1h-4zM817 307h1v1h-1zM1247 307h3v1h-3zM1290 307h2v1h-2zM185 308h1v1h-1zM323 308h4v1h-4zM816 308h1v1h-1zM1250 308h3v1h-3zM1287 308h3v1h-3zM185 309h1v1h-1zM327 309h3v1h-3zM814 309h2v1h-2zM1253 309h2v1h-2zM1283 309h4v1h-4zM184 310h1v1h-1zM330 310h2v1h-2zM812 310h2v1h-2zM1255 310h6v1h-6zM1277 310h6v1h-6zM184 311h1v1h-1zM332 311h2v1h-2zM810 311h2v1h-2zM1261 311h16v1h-16zM184 312h1v1h-1zM334 312h2v1h-2zM808 312h2v1h-2zM183 313h1v1h-1zM336 313h1v1h-1zM806 313h2v1h-2zM183 314h1v1h-1zM337 314h1v1h-1zM805 314h1v1h-1zM182 315h1v1h-1zM338 315h1v1h-1zM803 315h2v1h-2zM182 316h1v1h-1zM339 316h1v1h-1zM801 316h2v1h-2zM181 317h1v1h-1zM340 317h1v1h-1zM800 317h1v1h-1zM181 318h1v1h-1zM340 318h1v1h-1zM799 318h1v1h-1zM180 319h1v1h-1zM341 319h1v1h-1zM797 319h2v1h-2zM180 320h1v1h-1zM342 320h1v1h-1zM796 320h1v1h-1zM179 321h1v1h-1zM343 321h1v1h-1zM795 321h1v1h-1zM179 322h1v1h-1zM344 322h1v1h-1zM793 322h2v1h-2zM178 323h1v1h-1zM345 323h1v1h-1zM791 323h2v1h-2zM178 324h1v1h-1zM346 324h1v1h-1zM709 324h6v1h-6zM787 324h4v1h-4zM177 325h1v1h-1zM346 325h1v1h-1zM701 325h8v1h-8zM715 325h4v1h-4zM741 325h24v1h-24zM781 325h6v1h-6zM177 326h1v1h-1zM347 326h1v1h-1zM693 326h8v1h-8zM719 326h6v1h-6zM733 326h8v1h-8zM765 326h16v1h-16zM176 327h1v1h-1zM348 327h1v1h-1zM685 327h8v1h-8zM725 327h8v1h-8zM176 328h1v1h-1zM349 328h1v1h-1zM677 328h8v1h-8zM175 329h1v1h-1zM350 329h1v1h-1zM661 329h16v1h-16zM175 330h1v1h-1zM350 330h1v1h-1zM621 330h40v1h-40zM174 331h1v1h-1zM351 331h1v1h-1zM616 331h5v1h-5zM174 332h1v1h-1zM352 332h1v1h-1zM614 332h2v1h-2zM173 333h1v1h-1zM353 333h1v1h-1zM612 333h2v1h-2zM173 334h1v1h-1zM354 334h1v1h-1zM610 334h2v1h-2zM172 335h1v1h-1zM355 335h1v1h-1zM607 335h3v1h-3zM172 336h1v1h-1zM356 336h1v1h-1zM603 336h4v1h-4zM171 337h1v1h-1zM357 337h1v1h-1zM599 337h4v1h-4zM171 338h1v1h-1zM358 338h1v1h-1zM595 338h4v1h-4zM170 339h1v1h-1zM359 339h1v1h-1zM591 339h4v1h-4zM170 340h1v1h-1zM360 340h1v1h-1zM589 340h2v1h-2zM169 341h1v1h-1zM361 341h1v1h-1zM586 341h3v1h-3zM169 342h1v1h-1zM362 342h1v1h-1zM583 342h3v1h-3zM168 343h1v1h-1zM363 343h1v1h-1zM579 343h4v1h-4zM167 344h1v1h-1zM364 344h1v1h-1zM575 344h4v1h-4zM167 345h1v1h-1zM364 345h1v1h-1zM573 345h2v1h-2zM166 346h1v1h-1zM365 346h1v1h-1zM570 346h3v1h-3zM165 347h1v1h-1zM366 347h1v1h-1zM568 347h2v1h-2zM165 348h1v1h-1zM367 348h1v1h-1zM566 348h2v1h-2zM164 349h1v1h-1zM368 349h1v1h-1zM564 349h2v1h-2zM163 350h1v1h-1zM369 350h1v1h-1zM562 350h2v1h-2zM163 351h1v1h-1zM370 351h1v1h-1zM559 351h3v1h-3zM162 352h1v1h-1zM371 352h1v1h-1zM557 352h2v1h-2zM161 353h1v1h-1zM372 353h1v1h-1zM554 353h3v1h-3zM161 354h1v1h-1zM373 354h1v1h-1zM552 354h2v1h-2zM160 355h1v1h-1zM374 355h1v1h-1zM550 355h2v1h-2zM159 356h1v1h-1zM375 356h1v1h-1zM548 356h2v1h-2zM158 357h1v1h-1zM376 357h2v1h-2zM546 357h2v1h-2zM158 358h1v1h-1zM378 358h3v1h-3zM544 358h2v1h-2zM157 359h1v1h-1zM381 359h2v1h-2zM542 359h2v1h-2zM156 360h1v1h-1zM383 360h3v1h-3zM540 360h2v1h-2zM155 361h1v1h-1zM386 361h3v1h-3zM538 361h2v1h-2zM154 362h1v1h-1zM389 362h2v1h-2zM463 362h6v1h-6zM535 362h3v1h-3zM154 363h1v1h-1zM391 363h3v1h-3zM459 363h4v1h-4zM469 363h8v1h-8zM533 363h2v1h-2zM153 364h1v1h-1zM394 364h2v1h-2zM453 364h6v1h-6zM477 364h8v1h-8zM530 364h3v1h-3zM152 365h1v1h-1zM396 365h2v1h-2zM429 365h24v1h-24zM485 365h8v1h-8zM527 365h3v1h-3zM151 366h1v1h-1zM398 366h2v1h-2zM421 366h8v1h-8zM493 366h8v1h-8zM523 366h4v1h-4zM150 367h1v1h-1zM400 367h21v1h-21zM501 367h8v1h-8zM517 367h6v1h-6zM150 368h1v1h-1zM509 368h8v1h-8zM149 369h1v1h-1zM148 370h1v1h-1zM147 371h1v1h-1zM146 372h1v1h-1zM146 373h1v1h-1zM145 374h1v1h-1zM144 375h1v1h-1zM143 376h1v1h-1zM142 377h1v1h-1zM142 378h1v1h-1zM141 379h1v1h-1zM140 380h1v1h-1zM139 381h1v1h-1zM138 382h1v1h-1zM138 383h1v1h-1zM137 384h1v1h-1zM136 385h1v1h-1zM135 386h1v1h-1zM135 387h1v1h-1zM134 388h1v1h-1zM133 389h1v1h-1zM132 390h1v1h-1zM132 391h1v1h-1zM131 392h1v1h-1zM130 393h1v1h-1zM129 394h1v1h-1zM129 395h1v1h-1zM128 396h1v1h-1zM127 397h1v1h-1zM126 398h1v1h-1zM126 399h1v1h-1zM125 400h1v1h-1zM124 401h1v1h-1zM123 402h1v1h-1zM122 403h1v1h-1zM122 404h1v1h-1zM121 405h1v1h-1zM120 406h1v1h-1zM119 407h1v1h-1zM118 408h1v1h-1zM117 409h1v1h-1zM116 410h1v1h-1zM116 411h1v1h-1zM115 412h1v1h-1zM114 413h1v1h-1zM113 414h1v1h-1zM112 415h1v1h-1zM111 416h1v1h-1zM110 417h1v1h-1zM110 418h1v1h-1zM109 419h1v1h-1zM108 420h1v1h-1zM107 421h1v1h-1zM106 422h1v1h-1zM106 423h1v1h-1zM105 424h1v1h-1zM104 425h1v1h-1zM103 426h1v1h-1zM103 427h1v1h-1zM102 428h1v1h-1zM102 429h1v1h-1zM101 430h1v1h-1zM101 431h1v1h-1zM100 432h1v1h-1zM99 433h1v1h-1zM99 434h1v1h-1zM98 435h1v1h-1zM98 436h1v1h-1zM97 437h1v1h-1zM97 438h1v1h-1zM96 439h1v1h-1zM95 440h1v1h-1zM95 441h1v1h-1zM94 442h1v1h-1zM93 443h1v1h-1zM92 444h1v1h-1zM92 445h1v1h-1zM91 446h1v1h-1zM90 447h1v1h-1zM89 448h1v1h-1zM89 449h1v1h-1zM88 450h1v1h-1zM87 451h1v1h-1zM87 452h1v1h-1zM86 453h1v1h-1zM86 454h1v1h-1zM85 455h1v1h-1zM85 456h1v1h-1zM84 457h1v1h-1zM83 458h1v1h-1zM83 459h1v1h-1zM82 460h1v1h-1zM82 461h1v1h-1zM81 462h1v1h-1zM81 463h1v1h-1zM80 464h1v1h-1zM79 465h1v1h-1zM79 466h1v1h-1zM78 467h1v1h-1zM78 468h1v1h-1zM77 469h1v1h-1zM77 470h1v1h-1zM76 471h1v1h-1zM75 472h1v1h-1zM75 473h1v1h-1zM74 474h1v1h-1zM74 475h1v1h-1zM73 476h1v1h-1zM73 477h1v1h-1zM72 478h1v1h-1zM71 479h1v1h-1zM70 480h1v1h-1zM70 481h1v1h-1zM69 482h1v1h-1zM68 483h1v1h-1zM67 484h1v1h-1zM66 485h1v1h-1zM66 486h1v1h-1zM65 487h1v1h-1zM64 488h1v1h-1zM63 489h1v1h-1zM62 490h1v1h-1zM61 491h1v1h-1zM60 492h1v1h-1zM59 493h1v1h-1zM58 494h1v1h-1zM57 495h1v1h-1zM56 496h1v1h-1zM55 497h1v1h-1zM54 498h1v1h-1zM53 499h1v1h-1zM52 500h1v1h-1zM51 501h1v1h-1zM50 502h1v1h-1zM49 503h1v1h-1zM48 504h1v1h-1zM47 505h1v1h-1zM45 506h2v1h-2zM44 507h1v1h-1zM43 508h1v1h-1zM41 509h2v1h-2zM40 510h1v1h-1zM38 511h2v1h-2zM37 512h1v1h-1zM35 513h2v1h-2zM33 514h2v1h-2zM32 515h1v1h-1zM30 516h2v1h-2zM29 517h1v1h-1zM27 518h2v1h-2zM25 519h2v1h-2zM24 520h1v1h-1zM22 521h2v1h-2zM20 522h2v1h-2zM18 523h2v1h-2zM16 524h2v1h-2zM14 525h2v1h-2zM12 526h2v1h-2zM10 527h2v1h-2zM8 528h2v1h-2z" fill="#ffa500"/>
<path d="M1663 226h2v1h-2zM1661 227h2v1h-2zM1658 228h3v1h-3zM1656 229h2v1h-2zM1654 230h2v1h-2zM1652 231h2v1h-2zM1650 232h2v1h-2zM1648 233h2v1h-2zM1646 234h2v1h-2zM1644 235h2v1h-2zM1642 236h2v1h-2zM1640 237h2v1h-2zM1638 238h2v1h-2zM1636 239h2v1h-2zM1634 240h2v1h-2zM1632 241h2v1h-2zM1630 242h2v1h-2zM1628 243h2v1h-2zM1626 244h2v1h-2zM1624 245h2v1h-2zM1622 246h2v1h-2zM1620 247h2v1h-2zM1618 248h2v1h-2zM1616 249h2v1h-2zM1614 250h2v1h-2zM1613 251h1v1h-1zM1611 252h2v1h-2zM1609 253h2v1h-2zM1608 254h1v1h-1zM1606 255h2v1h-2zM1111 256h14v1h-14zM1604 256h2v1h-2zM1107 257h4v1h-4zM1125 257h32v1h-32zM1602 257h2v1h-2zM1101 258h6v1h-6zM1157 258h32v1h-32zM1600 258h2v1h-2zM1095 259h6v1h-6zM1189 259h8v1h-8zM1205 259h40v1h-40zM1598 259h2v1h-2zM1091 260h4v1h-4zM1197 260h8v1h-8zM1245 260h6v1h-6zM1596 260h2v1h-2zM1087 261h4v1h-4zM1251 261h4v1h-4zM1594 261h2v1h-2zM1083 262h4v1h-4zM1255 262h6v1h-6zM1591 262h3v1h-3zM1079 263h4v1h-4zM1261 263h8v1h-8zM1589 263h2v1h-2zM1075 264h4v1h-4zM1269 264h8v1h-8zM1586 264h3v1h-3zM1069 265h6v1h-6zM1277 265h8v1h-8zM1583 265h3v1h-3zM1063 266h6v1h-6zM1285 266h8v1h-8zM1341 266h16v1h-16zM1581 266h2v1h-2zM1059 267h4v1h-4zM1293 267h8v1h-8zM1309 267h32v1h-32zM1357 267h16v1h-16zM1578 267h3v1h-3zM1053 268h6v1h-6zM1301 268h8v1h-8zM1373 268h8v1h-8zM1575 268h3v1h-3zM1047 269h6v1h-6zM1381 269h6v1h-6zM1573 269h2v1h-2zM1043 270h4v1h-4zM1387 270h4v1h-4zM1570 270h3v1h-3zM1039 271h4v1h-4zM1391 271h6v1h-6zM1567 271h3v1h-3zM1035 272h4v1h-4zM1397 272h8v1h-8zM1565 272h2v1h-2zM1031 273h4v1h-4zM1405 273h8v1h-8zM1562 273h3v1h-3zM1029 274h2v1h-2zM1413 274h8v1h-8zM1559 274h3v1h-3zM1026 275h3v1h-3zM1421 275h40v1h-40zM1555 275h4v1h-4zM1023 276h3v1h-3zM1461 276h6v1h-6zM1541 276h14v1h-14zM1019 277h4v1h-4zM1467 277h4v1h-4zM1525 277h16v1h-16zM1015 278h4v1h-4zM1471 278h4v1h-4zM1517 278h8v1h-8zM1011 279h4v1h-4zM1475 279h4v1h-4zM1509 279h8v1h-8zM1005 280h6v1h-6zM1479 280h30v1h-30zM997 281h8v1h-8zM989 282h8v1h-8zM983 283h6v1h-6zM979 284h4v1h-4zM975 285h4v1h-4zM971 286h4v1h-4zM967 287h4v1h-4zM965 288h2v1h-2zM962 289h3v1h-3zM959 290h3v1h-3zM957 291h2v1h-2zM954 292h3v1h-3zM951 293h3v1h-3zM947 294h4v1h-4zM943 295h4v1h-4zM939 296h4v1h-4zM935 297h4v1h-4zM931 298h4v1h-4zM927 299h4v1h-4zM923 300h4v1h-4zM917 301h6v1h-6zM909 302h8v1h-8zM903 303h6v1h-6zM899 304h4v1h-4zM893 305h6v1h-6zM885 306h8v1h-8zM879 307h6v1h-6zM875 308h4v1h-4zM871 309h4v1h-4zM867 310h4v1h-4zM863 311h4v1h-4zM859 312h4v1h-4zM855 313h4v1h-4zM853 314h2v1h-2zM850 315h3v1h-3zM847 316h3v1h-3zM845 317h2v1h-2zM842 318h3v1h-3zM839 319h3v1h-3zM837 320h2v1h-2zM834 321h3v1h-3zM832 322h2v1h-2zM830 323h2v1h-2zM828 324h2v1h-2zM826 325h2v1h-2zM501 326h16v1h-16zM823 326h3v1h-3zM485 327h16v1h-16zM517 327h6v1h-6zM821 327h2v1h-2zM477 328h8v1h-8zM523 328h4v1h-4zM818 328h3v1h-3zM471 329h6v1h-6zM527 329h4v1h-4zM816 329h2v1h-2zM467 330h4v1h-4zM531 330h4v1h-4zM814 330h2v1h-2zM463 331h4v1h-4zM535 331h6v1h-6zM812 331h2v1h-2zM461 332h2v1h-2zM541 332h8v1h-8zM810 332h2v1h-2zM458 333h3v1h-3zM549 333h8v1h-8zM808 333h2v1h-2zM455 334h3v1h-3zM557 334h8v1h-8zM806 334h2v1h-2zM453 335h2v1h-2zM565 335h16v1h-16zM804 335h2v1h-2zM450 336h3v1h-3zM581 336h16v1h-16zM802 336h2v1h-2zM447 337h3v1h-3zM597 337h8v1h-8zM799 337h3v1h-3zM445 338h2v1h-2zM605 338h6v1h-6zM795 338h4v1h-4zM442 339h3v1h-3zM611 339h4v1h-4zM791 339h4v1h-4zM439 340h3v1h-3zM615 340h3v1h-3zM787 340h4v1h-4zM437 341h2v1h-2zM618 341h3v1h-3zM781 341h6v1h-6zM434 342h3v1h-3zM621 342h2v1h-2zM773 342h8v1h-8zM431 343h3v1h-3zM623 343h4v1h-4zM757 343h16v1h-16zM429 344h2v1h-2zM627 344h4v1h-4zM733 344h24v1h-24zM426 345h3v1h-3zM631 345h4v1h-4zM709 345h24v1h-24zM423 346h3v1h-3zM635 346h4v1h-4zM701 346h8v1h-8zM419 347h4v1h-4zM639 347h6v1h-6zM685 347h16v1h-16zM415 348h4v1h-4zM645 348h8v1h-8zM677 348h8v1h-8zM413 349h2v1h-2zM653 349h24v1h-24zM410 350h3v1h-3zM407 351h3v1h-3zM403 352h4v1h-4zM399 353h4v1h-4zM395 354h4v1h-4zM391 355h4v1h-4zM387 356h4v1h-4zM381 357h6v1h-6zM375 358h6v1h-6zM371 359h4v1h-4zM367 360h4v1h-4zM363 361h4v1h-4zM359 362h4v1h-4zM357 363h2v1h-2zM354 364h3v1h-3zM352 365h2v1h-2zM350 366h2v1h-2zM348 367h2v1h-2zM346 368h2v1h-2zM343 369h3v1h-3zM341 370h2v1h-2zM338 371h3v1h-3zM336 372h2v1h-2zM334 373h2v1h-2zM332 374h2v1h-2zM330 375h2v1h-2zM328 376h2v1h-2zM326 377h2v1h-2zM324 378h2v1h-2zM322 379h2v1h-2zM320 380h2v1h-2zM318 381h2v1h-2zM316 382h2v1h-2zM314 383h2v1h-2zM312 384h2v1h-2zM310 385h2v1h-2zM308 386h2v1h-2zM306 387h2v1h-2zM304 388h2v1h-2zM302 389h2v1h-2zM300 390h2v1h-2zM298 391h2v1h-2zM296 392h2v1h-2zM294 393h2v1h-2zM292 394h2v1h-2zM290 395h2v1h-2zM287 396h3v1h-3zM285 397h2v1h-2zM282 398h3v1h-3zM280 399h2v1h-2zM278 400h2v1h-2zM276 401h2v1h-2zM274 402h2v1h-2zM272 403h2v1h-2zM270 404h2v1h-2zM268 405h2v1h-2zM266 406h2v1h-2zM263 407h3v1h-3zM261 408h2v1h-2zM258 409h3v1h-3zM255 410h3v1h-3zM253 411h2v1h-2zM250 412h3v1h-3zM247 413h3v1h-3zM245 414h2v1h-2zM242 415h3v1h-3zM240 416h2v1h-2zM238 417h2v1h-2zM236 418h2v1h-2zM234 419h2v1h-2zM232 420h2v1h-2zM230 421h2v1h-2zM229 422h1v1h-1zM227 423h2v1h-2zM225 424h2v1h-2zM224 425h1v1h-1zM223 426h1v1h-1zM221 427h2v1h-2zM220 428h1v1h-1zM219 429h1v1h-1zM217 430h2v1h-2zM216 431h1v1h-1zM214 432h2v1h-2zM213 433h1v1h-1zM211 434h2v1h-2zM209 435h2v1h-2zM208 436h1v1h-1zM207 437h1v1h-1zM205 438h2v1h-2zM204 439h1v1h-1zM203 440h1v1h-1zM201 441h2v1h-2zM200 442h1v1h-1zM199 443h1v1h-1zM198 444h1v1h-1zM197 445h1v1h-1zM196 446h1v1h-1zM196 447h1v1h-1zM195 448h1v1h-1zM194 449h1v1h-1zM193 450h1v1h-1zM192 451h1v1h-1zM191 452h1v1h-1zM190 453h1v1h-1zM189 454h1v1h-1zM188 455h1v1h-1zM187 456h1v1h-1zM186 457h1v1h-1zM185 458h1v1h-1zM184 459h1v1h-1zM183 460h1v1h-1zM182 461h1v1h-1zM181 462h1v1h-1zM180 463h1v1h-1zM180 464h1v1h-1zM179 465h1v1h-1zM178 466h1v1h-1zM177 467h1v1h-1zM176 468h1v1h-1zM175 469h1v1h-1zM174 470h1v1h-1zM173 471h1v1h-1zM172 472h1v1h-1zM171 473h1v1h-1zM170 474h1v1h-1zM169 475h1v1h-1zM168 476h1v1h-1zM167 477h1v1h-1zM166 478h1v1h-1zM165 479h1v1h-1zM164 480h1v1h-1zM163 481h1v1h-1zM162 482h1v1h-1zM161 483h1v1h-1zM160 484h1v1h-1zM159 485h1v1h-1zM158 486h1v1h-1zM157 487h1v1h-1zM156 488h1v1h-1zM155 489h1v1h-1zM154 490h1v1h-1zM153 491h1v1h-1zM152 492h1v1h-1zM151 493h1v1h-1zM150 494h1v1h-1zM149 495h1v1h-1zM147 496h2v1h-2zM146 497h1v1h-1zM145 498h1v1h-1zM144 499h1v1h-1zM143 500h1v1h-1zM142 501h1v1h-1zM141 502h1v1h-1zM139 503h2v1h-2zM138 504h1v1h-1zM137 505h1v1h-1zM136 506h1v1h-1zM135 507h1v1h-1zM134 508h1v1h-1zM133 509h1v1h-1zM131 510h2v1h-2zM130 511h1v1h-1zM129 512h1v1h-1zM128 513h1v1h-1zM127 514h1v1h-1zM126 515h1v1h-1zM125 516h1v1h-1zM124 517h1v1h-1zM123 518h1v1h-1zM122 519h1v1h-1zM121 520h1v1h-1zM120 521h1v1h-1zM119 522h1v1h-1zM118 523h1v1h-1zM117 524h1v1h-1zM115 525h2v1h-2zM114 526h1v1h-1zM113 527h1v1h-1zM112 528h1v1h-1zM111 529h1v1h-1zM110 530h1v1h-1z" fill="#ff00ff"/>
<path d="M1661 280h4v1h-4zM1655 281h6v1h-6zM1651 282h4v1h-4zM1645 283h6v1h-6zM1639 284h6v1h-6zM1635 285h4v1h-4zM1631 286h4v1h-4zM1627 287h4v1h-4zM1621 288h6v1h-6zM1615 289h6v1h-6zM1611 290h4v1h-4zM1607 291h4v1h-4zM1603 292h4v1h-4zM1597 293h6v1h-6zM1591 294h6v1h-6zM1587 295h4v1h-4zM1581 296h6v1h-6zM1575 297h6v1h-6zM1571 298h4v1h-4zM1567 299h4v1h-4zM1565 300h2v1h-2zM1562 301h3v1h-3zM1559 302h3v1h-3zM1555 303h4v1h-4zM1549 304h6v1h-6zM1541 305h8v1h-8zM1535 306h6v1h-6zM1531 307h4v1h-4zM1525 308h6v1h-6zM1517 309h8v1h-8zM1511 310h6v1h-6zM1507 311h4v1h-4zM1501 312h6v1h-6zM1495 313h6v1h-6zM1491 314h4v1h-4zM1485 315h6v1h-6zM1479 316h6v1h-6zM1475 317h4v1h-4zM1469 318h6v1h-6zM1463 319h6v1h-6zM1459 320h4v1h-4zM1453 321h6v1h-6zM1447 322h6v1h-6zM1443 323h4v1h-4zM1439 324h4v1h-4zM1435 325h4v1h-4zM1429 326h6v1h-6zM1421 327h8v1h-8zM1415 328h6v1h-6zM1411 329h4v1h-4zM1407 330h4v1h-4zM1403 331h4v1h-4zM1397 332h6v1h-6zM1391 333h6v1h-6zM1387 334h4v1h-4zM1381 335h6v1h-6zM1375 336h6v1h-6zM1371 337h4v1h-4zM1367 338h4v1h-4zM1363 339h4v1h-4zM1357 340h6v1h-6zM1351 341h6v1h-6zM1347 342h4v1h-4zM1343 343h4v1h-4zM1339 344h4v1h-4zM1335 345h4v1h-4zM1331 346h4v1h-4zM1327 347h4v1h-4zM1323 348h4v1h-4zM1319 349h4v1h-4zM1317 350h2v1h-2zM1314 351h3v1h-3zM1311 352h3v1h-3zM1307 353h4v1h-4zM1303 354h4v1h-4zM1299 355h4v1h-4zM1295 356h4v1h-4zM1291 357h4v1h-4zM1287 358h4v1h-4zM1283 359h4v1h-4zM1279 360h4v1h-4zM1277 361h2v1h-2zM1274 362h3v1h-3zM1271 363h3v1h-3zM1267 364h4v1h-4zM1263 365h4v1h-4zM1261 366h2v1h-2zM1258 367h3v1h-3zM1255 368h3v1h-3zM1251 369h4v1h-4zM1247 370h4v1h-4zM1243 371h4v1h-4zM1239 372h4v1h-4zM1235 373h4v1h-4zM1231 374h4v1h-4zM1227 375h4v1h-4zM1223 376h4v1h-4zM1219 377h4v1h-4zM1215 378h4v1h-4zM1211 379h4v1h-4zM1207 380h4v1h-4zM1203 381h4v1h-4zM1199 382h4v1h-4zM1195 383h4v1h-4zM1191 384h4v1h-4zM1187 385h4v1h-4zM1183 386h4v1h-4zM1181 387h2v1h-2zM1178 388h3v1h-3zM1175 389h3v1h-3zM1171 390h4v1h-4zM1167 391h4v1h-4zM1163 392h4v1h-4zM1159 393h4v1h-4zM1155 394h4v1h-4zM1151 395h4v1h-4zM1147 396h4v1h-4zM1143 397h4v1h-4zM1139 398h4v1h-4zM1133 399h6v1h-6zM1127 400h6v1h-6zM1123 401h4v1h-4zM1117 402h6v1h-6zM1111 403h6v1h-6zM1109 404h2v1h-2zM1106 405h3v1h-3zM1103 406h3v1h-3zM1099 407h4v1h-4zM1095 408h4v1h-4zM1093 409h2v1h-2zM1090 410h3v1h-3zM1087 411h3v1h-3zM1083 412h4v1h-4zM1079 413h4v1h-4zM1077 414h2v1h-2zM1074 415h3v1h-3zM1071 416h3v1h-3zM1067 417h4v1h-4zM1063 418h4v1h-4zM1059 419h4v1h-4zM1055 420h4v1h-4zM1053 421h2v1h-2zM1050 422h3v1h-3zM1047 423h3v1h-3zM1043 424h4v1h-4zM1039 425h4v1h-4zM1037 426h2v1h-2zM1034 427h3v1h-3zM1031 428h3v1h-3zM1029 429h2v1h-2zM1026 430h3v1h-3zM1023 431h3v1h-3zM1021 432h2v1h-2zM1018 433h3v1h-3zM1015 434h3v1h-3zM1013 435h2v1h-2zM1010 436h3v1h-3zM1007 437h3v1h-3zM1003 438h4v1h-4zM999 439h4v1h-4zM995 440h4v1h-4zM991 441h4v1h-4zM989 442h2v1h-2zM986 443h3v1h-3zM983 444h3v1h-3zM981 445h2v1h-2zM978 446h3v1h-3zM975 447h3v1h-3zM973 448h2v1h-2zM970 449h3v1h-3zM967 450h3v1h-3zM965 451h2v1h-2zM962 452h3v1h-3zM959 453h3v1h-3zM955 454h4v1h-4zM951 455h4v1h-4zM947 456h4v1h-4zM943 457h4v1h-4zM939 458h4v1h-4zM935 459h4v1h-4zM933 460h2v1h-2zM930 461h3v1h-3zM927 462h3v1h-3zM923 463h4v1h-4zM919 464h4v1h-4zM917 465h2v1h-2zM914 466h3v1h-3zM911 467h3v1h-3zM909 468h2v1h-2zM906 469h3v1h-3zM903 470h3v1h-3zM899 471h4v1h-4zM895 472h4v1h-4zM891 473h4v1h-4zM887 474h4v1h-4zM885 475h2v1h-2zM882 476h3v1h-3zM879 477h3v1h-3zM875 478h4v1h-4zM871 479h4v1h-4zM869 480h2v1h-2zM866 481h3v1h-3zM863 482h3v1h-3zM861 483h2v1h-2zM858 484h3v1h-3zM855 485h3v1h-3zM853 486h2v1h-2zM850 487h3v1h-3zM847 488h3v1h-3zM845 489h2v1h-2zM842 490h3v1h-3zM839 491h3v1h-3zM837 492h2v1h-2zM834 493h3v1h-3zM831 494h3v1h-3zM829 495h2v1h-2zM826 496h3v1h-3zM823 497h3v1h-3zM821 498h2v1h-2zM818 499h3v1h-3zM815 500h3v1h-3zM811 501h4v1h-4zM807 502h4v1h-4zM805 503h2v1h-2zM802 504h3v1h-3zM800 505h2v1h-2zM798 506h2v1h-2zM796 507h2v1h-2zM794 508h2v1h-2zM791 509h3v1h-3zM789 510h2v1h-2zM786 511h3v1h-3zM783 512h3v1h-3zM779 513h4v1h-4zM773 514h6v1h-6zM767 515h6v1h-6zM763 516h4v1h-4zM759 517h4v1h-4zM755 518h4v1h-4zM752 519h3v1h-3zM750 520h2v1h-2zM748 521h2v1h-2zM746 522h2v1h-2zM743 523h3v1h-3zM739 524h4v1h-4zM735 525h4v1h-4zM731 526h4v1h-4zM725 527h6v1h-6zM719 528h6v1h-6zM715 529h4v1h-4zM711 530h4v1h-4z" fill="#ff0000"/>
</g>
<g id="hlines" shape-rendering="crispEdges">
<rect x="8" y="75" width="1681" height="2" fill="#00ff7f"/>
<rect x="8" y="244" width="1680" height="2" fill="#4169e1"/>
<rect x="8" y="302" width="1680" height="2" fill="#4169e1"/>
<rect x="8" y="379" width="1680" height="2" fill="#4169e1"/>
<rect x="7" y="73" width="6" height="6" fill="#00ff7f"/>
<rect x="9" y="75" width="2" height="2" fill="#fff"/>
<rect x="1682" y="73" width="6" height="6" fill="#00ff7f"/>
<rect x="1684" y="75" width="2" height="2" fill="#fff"/>
<rect x="7" y="242" width="6" height="6" fill="#4169e1"/>
<rect x="9" y="244" width="2" height="2" fill="#fff"/>
<rect x="1682" y="242" width="6" height="6" fill="#4169e1"/>
<rect x="1684" y="244" width="2" height="2" fill="#fff"/>
</g>
<text x="474.700" y="171.800" fill="#ff0000" font-size="32.500" style="font-family:'Liberation Sans','Noto Sans CJK SC',sans-serif">多空转折点<tspan font-size="34.500" dx="-1.200" dy="-0.800">1610</tspan></text>
<path d="M11 45h8l-4 4z" fill="#000"/>
<text transform="translate(22 50) scale(1 1.1)" fill="#000" stroke="#000" stroke-width="0.18"><tspan x="0.3" textLength="57.8" lengthAdjust="spacingAndGlyphs">XAUUSD-,H4</tspan> <tspan x="64.2" textLength="32.5" lengthAdjust="spacingAndGlyphs">1606.42</tspan> <tspan x="100.2" textLength="32.5" lengthAdjust="spacingAndGlyphs">1612.84</tspan> <tspan x="136.2" textLength="32.5" lengthAdjust="spacingAndGlyphs">1605.86</tspan> <tspan x="172.2" textLength="32.5" lengthAdjust="spacingAndGlyphs">1610.39</tspan></text>
<g id="macd" shape-rendering="crispEdges">
<rect x="8" y="604" width="1" height="30" fill="#c0c0c0"/>
<rect x="16" y="601" width="1" height="33" fill="#c0c0c0"/>
<rect x="24" y="600" width="1" height="34" fill="#c0c0c0"/>
<rect x="32" y="601" width="1" height="33" fill="#c0c0c0"/>
<rect x="40" y="595" width="1" height="39" fill="#c0c0c0"/>
<rect x="48" y="590" width="1" height="44" fill="#c0c0c0"/>
<rect x="56" y="583" width="1" height="51" fill="#c0c0c0"/>
<rect x="64" y="579" width="1" height="55" fill="#c0c0c0"/>
<rect x="72" y="577" width="1" height="57" fill="#c0c0c0"/>
<rect x="80" y="566" width="1" height="68" fill="#c0c0c0"/>
<rect x="88" y="554" width="1" height="80" fill="#c0c0c0"/>
<rect x="96" y="548" width="1" height="86" fill="#c0c0c0"/>
<rect x="104" y="546" width="1" height="88" fill="#c0c0c0"/>
<rect x="112" y="546" width="1" height="88" fill="#c0c0c0"/>
<rect x="120" y="548" width="1" height="86" fill="#c0c0c0"/>
<rect x="128" y="551" width="1" height="83" fill="#c0c0c0"/>
<rect x="136" y="557" width="1" height="77" fill="#c0c0c0"/>
<rect x="144" y="558" width="1" height="76" fill="#c0c0c0"/>
<rect x="152" y="560" width="1" height="74" fill="#c0c0c0"/>
<rect x="160" y="563" width="1" height="71" fill="#c0c0c0"/>
<rect x="168" y="564" width="1" height="70" fill="#c0c0c0"/>
<rect x="176" y="555" width="1" height="79" fill="#c0c0c0"/>
<rect x="184" y="551" width="1" height="83" fill="#c0c0c0"/>
<rect x="192" y="550" width="1" height="84" fill="#c0c0c0"/>
<rect x="200" y="556" width="1" height="78" fill="#c0c0c0"/>
<rect x="208" y="562" width="1" height="72" fill="#c0c0c0"/>
<rect x="216" y="576" width="1" height="58" fill="#c0c0c0"/>
<rect x="224" y="587" width="1" height="47" fill="#c0c0c0"/>
<rect x="232" y="595" width="1" height="39" fill="#c0c0c0"/>
<rect x="240" y="608" width="1" height="26" fill="#c0c0c0"/>
<rect x="248" y="617" width="1" height="17" fill="#c0c0c0"/>
<rect x="256" y="625" width="1" height="9" fill="#c0c0c0"/>
<rect x="264" y="629" width="1" height="5" fill="#c0c0c0"/>
<rect x="272" y="632" width="1" height="2" fill="#c0c0c0"/>
<rect x="280" y="633" width="1" height="3" fill="#c0c0c0"/>
<rect x="288" y="633" width="1" height="7" fill="#c0c0c0"/>
<rect x="296" y="633" width="1" height="8" fill="#c0c0c0"/>
<rect x="304" y="633" width="1" height="6" fill="#c0c0c0"/>
<rect x="312" y="633" width="1" height="3" fill="#c0c0c0"/>
<rect x="320" y="633" width="1" height="2" fill="#c0c0c0"/>
<rect x="328" y="633" width="1" height="1" fill="#c0c0c0"/>
<rect x="336" y="633" width="1" height="2" fill="#c0c0c0"/>
<rect x="344" y="633" width="1" height="4" fill="#c0c0c0"/>
<rect x="352" y="633" width="1" height="6" fill="#c0c0c0"/>
<rect x="360" y="633" width="1" height="8" fill="#c0c0c0"/>
<rect x="368" y="633" width="1" height="11" fill="#c0c0c0"/>
<rect x="376" y="633" width="1" height="16" fill="#c0c0c0"/>
<rect x="384" y="633" width="1" height="19" fill="#c0c0c0"/>
<rect x="392" y="633" width="1" height="20" fill="#c0c0c0"/>
<rect x="400" y="633" width="1" height="21" fill="#c0c0c0"/>
<rect x="408" y="633" width="1" height="19" fill="#c0c0c0"/>
<rect x="416" y="633" width="1" height="17" fill="#c0c0c0"/>
<rect x="424" y="633" width="1" height="15" fill="#c0c0c0"/>
<rect x="432" y="633" width="1" height="12" fill="#c0c0c0"/>
<rect x="440" y="633" width="1" height="9" fill="#c0c0c0"/>
<rect x="448" y="633" width="1" height="8" fill="#c0c0c0"/>
<rect x="456" y="633" width="1" height="6" fill="#c0c0c0"/>
<rect x="464" y="633" width="1" height="3" fill="#c0c0c0"/>
<rect x="472" y="633" width="1" height="2" fill="#c0c0c0"/>
<rect x="480" y="633" width="1" height="1" fill="#c0c0c0"/>
<rect x="488" y="631" width="1" height="3" fill="#c0c0c0"/>
<rect x="496" y="632" width="1" height="2" fill="#c0c0c0"/>
<rect x="504" y="633" width="1" height="1" fill="#c0c0c0"/>
<rect x="512" y="633" width="1" height="1" fill="#c0c0c0"/>
<rect x="520" y="632" width="1" height="2" fill="#c0c0c0"/>
<rect x="528" y="631" width="1" height="3" fill="#c0c0c0"/>
<rect x="536" y="630" width="1" height="4" fill="#c0c0c0"/>
<rect x="544" y="629" width="1" height="5" fill="#c0c0c0"/>
<rect x="552" y="627" width="1" height="7" fill="#c0c0c0"/>
<rect x="560" y="626" width="1" height="8" fill="#c0c0c0"/>
<rect x="568" y="625" width="1" height="9" fill="#c0c0c0"/>
<rect x="576" y="623" width="1" height="11" fill="#c0c0c0"/>
<rect x="584" y="622" width="1" height="12" fill="#c0c0c0"/>
<rect x="592" y="622" width="1" height="12" fill="#c0c0c0"/>
<rect x="600" y="621" width="1" height="13" fill="#c0c0c0"/>
<rect x="608" y="621" width="1" height="13" fill="#c0c0c0"/>
<rect x="616" y="618" width="1" height="16" fill="#c0c0c0"/>
<rect x="624" y="620" width="1" height="14" fill="#c0c0c0"/>
<rect x="632" y="622" width="1" height="12" fill="#c0c0c0"/>
<rect x="640" y="624" width="1" height="10" fill="#c0c0c0"/>
<rect x="648" y="625" width="1" height="9" fill="#c0c0c0"/>
<rect x="656" y="627" width="1" height="7" fill="#c0c0c0"/>
<rect x="664" y="630" width="1" height="4" fill="#c0c0c0"/>
<rect x="672" y="632" width="1" height="2" fill="#c0c0c0"/>
<rect x="680" y="633" width="1" height="1" fill="#c0c0c0"/>
<rect x="688" y="633" width="1" height="1" fill="#c0c0c0"/>
<rect x="696" y="632" width="1" height="2" fill="#c0c0c0"/>
<rect x="704" y="630" width="1" height="4" fill="#c0c0c0"/>
<rect x="712" y="630" width="1" height="4" fill="#c0c0c0"/>
<rect x="720" y="631" width="1" height="3" fill="#c0c0c0"/>
<rect x="728" y="632" width="1" height="2" fill="#c0c0c0"/>
<rect x="736" y="631" width="1" height="3" fill="#c0c0c0"/>
<rect x="744" y="629" width="1" height="5" fill="#c0c0c0"/>
<rect x="752" y="629" width="1" height="5" fill="#c0c0c0"/>
<rect x="760" y="628" width="1" height="6" fill="#c0c0c0"/>
<rect x="768" y="628" width="1" height="6" fill="#c0c0c0"/>
<rect x="776" y="628" width="1" height="6" fill="#c0c0c0"/>
<rect x="784" y="624" width="1" height="10" fill="#c0c0c0"/>
<rect x="792" y="620" width="1" height="14" fill="#c0c0c0"/>
<rect x="800" y="612" width="1" height="22" fill="#c0c0c0"/>
<rect x="808" y="607" width="1" height="27" fill="#c0c0c0"/>
<rect x="816" y="605" width="1" height="29" fill="#c0c0c0"/>
<rect x="824" y="601" width="1" height="33" fill="#c0c0c0"/>
<rect x="832" y="597" width="1" height="37" fill="#c0c0c0"/>
<rect x="840" y="597" width="1" height="37" fill="#c0c0c0"/>
<rect x="848" y="596" width="1" height="38" fill="#c0c0c0"/>
<rect x="856" y="597" width="1" height="37" fill="#c0c0c0"/>
<rect x="864" y="600" width="1" height="34" fill="#c0c0c0"/>
<rect x="872" y="601" width="1" height="33" fill="#c0c0c0"/>
<rect x="880" y="607" width="1" height="27" fill="#c0c0c0"/>
<rect x="888" y="612" width="1" height="22" fill="#c0c0c0"/>
<rect x="896" y="616" width="1" height="18" fill="#c0c0c0"/>
<rect x="904" y="622" width="1" height="12" fill="#c0c0c0"/>
<rect x="912" y="624" width="1" height="10" fill="#c0c0c0"/>
<rect x="920" y="625" width="1" height="9" fill="#c0c0c0"/>
<rect x="928" y="627" width="1" height="7" fill="#c0c0c0"/>
<rect x="936" y="625" width="1" height="9" fill="#c0c0c0"/>
<rect x="944" y="623" width="1" height="11" fill="#c0c0c0"/>
<rect x="952" y="620" width="1" height="14" fill="#c0c0c0"/>
<rect x="960" y="618" width="1" height="16" fill="#c0c0c0"/>
<rect x="968" y="617" width="1" height="17" fill="#c0c0c0"/>
<rect x="976" y="615" width="1" height="19" fill="#c0c0c0"/>
<rect x="984" y="615" width="1" height="19" fill="#c0c0c0"/>
<rect x="992" y="618" width="1" height="16" fill="#c0c0c0"/>
<rect x="1000" y="621" width="1" height="13" fill="#c0c0c0"/>
<rect x="1008" y="622" width="1" height="12" fill="#c0c0c0"/>
<rect x="1016" y="621" width="1" height="13" fill="#c0c0c0"/>
<rect x="1024" y="617" width="1" height="17" fill="#c0c0c0"/>
<rect x="1032" y="615" width="1" height="19" fill="#c0c0c0"/>
<rect x="1040" y="612" width="1" height="22" fill="#c0c0c0"/>
<rect x="1048" y="614" width="1" height="20" fill="#c0c0c0"/>
<rect x="1056" y="618" width="1" height="16" fill="#c0c0c0"/>
<rect x="1064" y="620" width="1" height="14" fill="#c0c0c0"/>
<rect x="1072" y="623" width="1" height="11" fill="#c0c0c0"/>
<rect x="1080" y="625" width="1" height="9" fill="#c0c0c0"/>
<rect x="1088" y="626" width="1" height="8" fill="#c0c0c0"/>
<rect x="1096" y="628" width="1" height="6" fill="#c0c0c0"/>
<rect x="1104" y="631" width="1" height="3" fill="#c0c0c0"/>
<rect x="1112" y="633" width="1" height="1" fill="#c0c0c0"/>
<rect x="1120" y="633" width="1" height="11" fill="#c0c0c0"/>
<rect x="1128" y="633" width="1" height="20" fill="#c0c0c0"/>
<rect x="1136" y="633" width="1" height="26" fill="#c0c0c0"/>
<rect x="1144" y="633" width="1" height="28" fill="#c0c0c0"/>
<rect x="1152" y="633" width="1" height="29" fill="#c0c0c0"/>
<rect x="1160" y="633" width="1" height="31" fill="#c0c0c0"/>
<rect x="1168" y="633" width="1" height="32" fill="#c0c0c0"/>
<rect x="1176" y="633" width="1" height="33" fill="#c0c0c0"/>
<rect x="1184" y="633" width="1" height="33" fill="#c0c0c0"/>
<rect x="1192" y="633" width="1" height="33" fill="#c0c0c0"/>
<rect x="1200" y="633" width="1" height="32" fill="#c0c0c0"/>
<rect x="1208" y="633" width="1" height="27" fill="#c0c0c0"/>
<rect x="1216" y="633" width="1" height="24" fill="#c0c0c0"/>
<rect x="1224" y="633" width="1" height="19" fill="#c0c0c0"/>
<rect x="1232" y="633" width="1" height="16" fill="#c0c0c0"/>
<rect x="1240" y="633" width="1" height="13" fill="#c0c0c0"/>
<rect x="1248" y="633" width="1" height="10" fill="#c0c0c0"/>
<rect x="1256" y="633" width="1" height="8" fill="#c0c0c0"/>
<rect x="1264" y="633" width="1" height="6" fill="#c0c0c0"/>
<rect x="1272" y="633" width="1" height="2" fill="#c0c0c0"/>
<rect x="1280" y="631" width="1" height="3" fill="#c0c0c0"/>
<rect x="1288" y="630" width="1" height="4" fill="#c0c0c0"/>
<rect x="1296" y="628" width="1" height="6" fill="#c0c0c0"/>
<rect x="1304" y="627" width="1" height="7" fill="#c0c0c0"/>
<rect x="1312" y="625" width="1" height="9" fill="#c0c0c0"/>
<rect x="1320" y="623" width="1" height="11" fill="#c0c0c0"/>
<rect x="1328" y="624" width="1" height="10" fill="#c0c0c0"/>
<rect x="1336" y="625" width="1" height="9" fill="#c0c0c0"/>
<rect x="1344" y="627" width="1" height="7" fill="#c0c0c0"/>
<rect x="1352" y="628" width="1" height="6" fill="#c0c0c0"/>
<rect x="1360" y="631" width="1" height="3" fill="#c0c0c0"/>
<rect x="1368" y="633" width="1" height="1" fill="#c0c0c0"/>
<rect x="1376" y="633" width="1" height="1" fill="#c0c0c0"/>
<rect x="1384" y="633" width="1" height="1" fill="#c0c0c0"/>
<rect x="1392" y="633" width="1" height="1" fill="#c0c0c0"/>
<rect x="1400" y="633" width="1" height="1" fill="#c0c0c0"/>
<rect x="1408" y="633" width="1" height="2" fill="#c0c0c0"/>
<rect x="1416" y="633" width="1" height="3" fill="#c0c0c0"/>
<rect x="1424" y="633" width="1" height="2" fill="#c0c0c0"/>
<rect x="1432" y="632" width="1" height="2" fill="#c0c0c0"/>
<rect x="1440" y="629" width="1" height="5" fill="#c0c0c0"/>
<rect x="1448" y="628" width="1" height="6" fill="#c0c0c0"/>
<rect x="1456" y="626" width="1" height="8" fill="#c0c0c0"/>
<rect x="1464" y="624" width="1" height="10" fill="#c0c0c0"/>
<rect x="1472" y="622" width="1" height="12" fill="#c0c0c0"/>
<rect x="1480" y="623" width="1" height="11" fill="#c0c0c0"/>
<rect x="1488" y="622" width="1" height="12" fill="#c0c0c0"/>
<rect x="1496" y="622" width="1" height="12" fill="#c0c0c0"/>
<rect x="1504" y="619" width="1" height="15" fill="#c0c0c0"/>
<rect x="1512" y="617" width="1" height="17" fill="#c0c0c0"/>
<rect x="1520" y="615" width="1" height="19" fill="#c0c0c0"/>
<rect x="1528" y="614" width="1" height="20" fill="#c0c0c0"/>
<rect x="1536" y="615" width="1" height="19" fill="#c0c0c0"/>
<rect x="1544" y="616" width="1" height="18" fill="#c0c0c0"/>
<rect x="1552" y="616" width="1" height="18" fill="#c0c0c0"/>
<rect x="1560" y="616" width="1" height="18" fill="#c0c0c0"/>
<rect x="1568" y="614" width="1" height="20" fill="#c0c0c0"/>
<rect x="1576" y="613" width="1" height="21" fill="#c0c0c0"/>
<rect x="1584" y="612" width="1" height="22" fill="#c0c0c0"/>
<rect x="1592" y="611" width="1" height="23" fill="#c0c0c0"/>
<rect x="1600" y="605" width="1" height="29" fill="#c0c0c0"/>
<rect x="1608" y="600" width="1" height="34" fill="#c0c0c0"/>
<rect x="1616" y="597" width="1" height="37" fill="#c0c0c0"/>
<rect x="1624" y="594" width="1" height="40" fill="#c0c0c0"/>
<rect x="1632" y="591" width="1" height="43" fill="#c0c0c0"/>
<rect x="1640" y="588" width="1" height="46" fill="#c0c0c0"/>
<rect x="1648" y="586" width="1" height="48" fill="#c0c0c0"/>
<rect x="1656" y="586" width="1" height="48" fill="#c0c0c0"/>
<rect x="1664" y="584" width="1" height="50" fill="#c0c0c0"/>
<path d="M152 550h3v1h-3zM146 551h3v1h-3zM158 551h3v1h-3zM164 551h1v1h-1zM140 552h3v1h-3zM165 552h2v1h-2zM135 553h2v1h-2zM170 553h3v1h-3zM134 554h1v1h-1zM130 555h1v1h-1zM176 555h3v1h-3zM182 555h3v1h-3zM188 555h1v1h-1zM128 556h2v1h-2zM189 556h2v1h-2zM194 556h3v1h-3zM200 556h3v1h-3zM206 557h1v1h-1zM124 558h1v1h-1zM207 558h2v1h-2zM122 559h2v1h-2zM212 559h3v1h-3zM218 560h1v1h-1zM118 561h1v1h-1zM219 561h2v1h-2zM116 562h2v1h-2zM224 562h2v1h-2zM226 563h1v1h-1zM112 564h1v1h-1zM111 565h1v1h-1zM230 565h2v1h-2zM110 566h1v1h-1zM232 566h1v1h-1zM236 568h1v1h-1zM105 569h2v1h-2zM237 569h1v1h-1zM104 570h1v1h-1zM238 570h1v1h-1zM100 573h1v1h-1zM242 573h1v1h-1zM99 574h1v1h-1zM243 574h2v1h-2zM98 575h1v1h-1zM94 578h1v1h-1zM248 578h1v1h-1zM93 579h1v1h-1zM249 579h1v1h-1zM92 580h1v1h-1zM250 580h1v1h-1zM88 583h1v1h-1zM254 583h1v1h-1zM86 584h2v1h-2zM255 584h1v1h-1zM256 585h1v1h-1zM82 586h1v1h-1zM80 587h2v1h-2zM76 589h1v1h-1zM260 589h1v1h-1zM74 590h2v1h-2zM260 590h1v1h-1zM261 591h1v1h-1zM1664 591h1v1h-1zM69 592h2v1h-2zM1662 592h2v1h-2zM68 593h1v1h-1zM63 594h2v1h-2zM1658 594h1v1h-1zM62 595h1v1h-1zM265 595h1v1h-1zM1656 595h2v1h-2zM58 596h1v1h-1zM266 596h1v1h-1zM1651 596h2v1h-2zM8 597h3v1h-3zM56 597h2v1h-2zM267 597h1v1h-1zM1650 597h1v1h-1zM14 598h3v1h-3zM20 598h1v1h-1zM51 598h2v1h-2zM1645 598h2v1h-2zM21 599h2v1h-2zM26 599h3v1h-3zM32 599h3v1h-3zM45 599h2v1h-2zM50 599h1v1h-1zM1644 599h1v1h-1zM38 600h3v1h-3zM44 600h1v1h-1zM870 600h3v1h-3zM876 600h3v1h-3zM882 600h3v1h-3zM888 600h3v1h-3zM1639 600h2v1h-2zM270 601h1v1h-1zM864 601h3v1h-3zM894 601h3v1h-3zM1638 601h1v1h-1zM271 602h1v1h-1zM859 602h2v1h-2zM900 602h1v1h-1zM1634 602h1v1h-1zM272 603h1v1h-1zM858 603h1v1h-1zM901 603h2v1h-2zM1632 603h2v1h-2zM853 604h2v1h-2zM906 604h1v1h-1zM852 605h1v1h-1zM907 605h2v1h-2zM1626 605h3v1h-3zM848 606h1v1h-1zM912 606h2v1h-2zM276 607h1v1h-1zM846 607h2v1h-2zM914 607h1v1h-1zM1621 607h2v1h-2zM277 608h1v1h-1zM1620 608h1v1h-1zM278 609h1v1h-1zM842 609h1v1h-1zM918 609h2v1h-2zM1614 609h3v1h-3zM840 610h2v1h-2zM920 610h1v1h-1zM1608 610h3v1h-3zM1603 611h2v1h-2zM834 612h3v1h-3zM924 612h2v1h-2zM1597 612h2v1h-2zM1602 612h1v1h-1zM282 613h1v1h-1zM926 613h1v1h-1zM1590 613h3v1h-3zM1596 613h1v1h-1zM283 614h2v1h-2zM830 614h1v1h-1zM930 614h1v1h-1zM1573 614h2v1h-2zM1578 614h3v1h-3zM1584 614h3v1h-3zM828 615h2v1h-2zM931 615h2v1h-2zM1566 615h3v1h-3zM1572 615h1v1h-1zM936 616h3v1h-3zM1038 616h3v1h-3zM1044 616h1v1h-1zM1560 616h3v1h-3zM823 617h2v1h-2zM942 617h1v1h-1zM1032 617h3v1h-3zM1045 617h2v1h-2zM1050 617h3v1h-3zM1056 617h3v1h-3zM1062 617h3v1h-3zM1068 617h1v1h-1zM1542 617h3v1h-3zM1548 617h3v1h-3zM1554 617h3v1h-3zM288 618h1v1h-1zM822 618h1v1h-1zM943 618h2v1h-2zM1008 618h3v1h-3zM1014 618h3v1h-3zM1020 618h3v1h-3zM1026 618h3v1h-3zM1069 618h2v1h-2zM1074 618h3v1h-3zM1080 618h3v1h-3zM1086 618h3v1h-3zM1092 618h1v1h-1zM1536 618h3v1h-3zM289 619h2v1h-2zM818 619h1v1h-1zM948 619h1v1h-1zM991 619h2v1h-2zM996 619h3v1h-3zM1002 619h3v1h-3zM1093 619h2v1h-2zM1098 619h1v1h-1zM1525 619h2v1h-2zM1530 619h3v1h-3zM816 620h2v1h-2zM949 620h2v1h-2zM990 620h1v1h-1zM1099 620h2v1h-2zM1518 620h3v1h-3zM1524 620h1v1h-1zM624 621h3v1h-3zM630 621h3v1h-3zM636 621h3v1h-3zM642 621h3v1h-3zM648 621h3v1h-3zM654 621h3v1h-3zM660 621h1v1h-1zM954 621h3v1h-3zM960 621h3v1h-3zM966 621h3v1h-3zM972 621h3v1h-3zM978 621h3v1h-3zM984 621h3v1h-3zM1104 621h3v1h-3zM1512 621h3v1h-3zM294 622h1v1h-1zM613 622h2v1h-2zM618 622h3v1h-3zM661 622h2v1h-2zM666 622h3v1h-3zM810 622h3v1h-3zM1110 622h1v1h-1zM1507 622h2v1h-2zM295 623h1v1h-1zM606 623h3v1h-3zM612 623h1v1h-1zM672 623h3v1h-3zM1111 623h2v1h-2zM1501 623h2v1h-2zM1506 623h1v1h-1zM296 624h1v1h-1zM600 624h3v1h-3zM678 624h1v1h-1zM804 624h3v1h-3zM1495 624h2v1h-2zM1500 624h1v1h-1zM589 625h2v1h-2zM594 625h3v1h-3zM679 625h2v1h-2zM799 625h2v1h-2zM1116 625h2v1h-2zM1350 625h3v1h-3zM1356 625h1v1h-1zM1494 625h1v1h-1zM582 626h3v1h-3zM588 626h1v1h-1zM684 626h3v1h-3zM798 626h1v1h-1zM1118 626h1v1h-1zM1344 626h3v1h-3zM1357 626h2v1h-2zM1362 626h3v1h-3zM1488 626h3v1h-3zM300 627h1v1h-1zM576 627h3v1h-3zM690 627h3v1h-3zM792 627h3v1h-3zM1333 627h2v1h-2zM1338 627h3v1h-3zM1368 627h3v1h-3zM1374 627h3v1h-3zM1380 627h3v1h-3zM1386 627h1v1h-1zM1482 627h3v1h-3zM301 628h2v1h-2zM565 628h2v1h-2zM570 628h3v1h-3zM696 628h3v1h-3zM781 628h2v1h-2zM786 628h3v1h-3zM1122 628h2v1h-2zM1327 628h2v1h-2zM1332 628h1v1h-1zM1387 628h2v1h-2zM1476 628h3v1h-3zM558 629h3v1h-3zM564 629h1v1h-1zM702 629h3v1h-3zM708 629h3v1h-3zM714 629h3v1h-3zM774 629h3v1h-3zM780 629h1v1h-1zM1124 629h1v1h-1zM1326 629h1v1h-1zM1392 629h3v1h-3zM1471 629h2v1h-2zM552 630h3v1h-3zM720 630h3v1h-3zM757 630h2v1h-2zM762 630h3v1h-3zM768 630h3v1h-3zM1320 630h3v1h-3zM1398 630h3v1h-3zM1404 630h1v1h-1zM1470 630h1v1h-1zM306 631h3v1h-3zM534 631h3v1h-3zM540 631h3v1h-3zM546 631h3v1h-3zM726 631h3v1h-3zM732 631h3v1h-3zM738 631h3v1h-3zM744 631h3v1h-3zM750 631h3v1h-3zM756 631h1v1h-1zM1128 631h2v1h-2zM1315 631h2v1h-2zM1405 631h2v1h-2zM1410 631h1v1h-1zM1464 631h3v1h-3zM528 632h3v1h-3zM1130 632h1v1h-1zM1314 632h1v1h-1zM1411 632h2v1h-2zM1453 632h2v1h-2zM1458 632h3v1h-3zM312 633h3v1h-3zM517 633h2v1h-2zM522 633h3v1h-3zM1308 633h3v1h-3zM1416 633h3v1h-3zM1422 633h3v1h-3zM1428 633h3v1h-3zM1434 633h3v1h-3zM1440 633h3v1h-3zM1446 633h3v1h-3zM1452 633h1v1h-1zM318 634h3v1h-3zM510 634h3v1h-3zM516 634h1v1h-1zM1134 634h2v1h-2zM1304 634h1v1h-1zM324 635h3v1h-3zM504 635h3v1h-3zM1136 635h1v1h-1zM1302 635h2v1h-2zM330 636h3v1h-3zM336 636h3v1h-3zM342 636h3v1h-3zM348 636h1v1h-1zM498 636h3v1h-3zM349 637h2v1h-2zM354 637h3v1h-3zM492 637h3v1h-3zM1140 637h2v1h-2zM1298 637h1v1h-1zM360 638h3v1h-3zM366 638h3v1h-3zM372 638h1v1h-1zM487 638h2v1h-2zM1142 638h1v1h-1zM1296 638h2v1h-2zM373 639h2v1h-2zM378 639h1v1h-1zM486 639h1v1h-1zM379 640h2v1h-2zM480 640h3v1h-3zM1146 640h2v1h-2zM1290 640h3v1h-3zM384 641h3v1h-3zM1148 641h1v1h-1zM390 642h1v1h-1zM474 642h3v1h-3zM1285 642h2v1h-2zM391 643h2v1h-2zM1152 643h1v1h-1zM1284 643h1v1h-1zM396 644h3v1h-3zM468 644h3v1h-3zM1153 644h2v1h-2zM1279 644h2v1h-2zM402 645h1v1h-1zM463 645h2v1h-2zM1278 645h1v1h-1zM403 646h2v1h-2zM462 646h1v1h-1zM1274 646h1v1h-1zM408 647h3v1h-3zM456 647h3v1h-3zM1158 647h2v1h-2zM1272 647h2v1h-2zM414 648h3v1h-3zM420 648h1v1h-1zM445 648h2v1h-2zM450 648h3v1h-3zM1160 648h1v1h-1zM421 649h2v1h-2zM426 649h3v1h-3zM432 649h3v1h-3zM438 649h3v1h-3zM444 649h1v1h-1zM1266 649h3v1h-3zM1164 650h2v1h-2zM1166 651h1v1h-1zM1261 651h2v1h-2zM1260 652h1v1h-1zM1170 653h2v1h-2zM1255 653h2v1h-2zM1172 654h1v1h-1zM1254 654h1v1h-1zM1250 655h1v1h-1zM1176 656h2v1h-2zM1248 656h2v1h-2zM1178 657h1v1h-1zM1242 658h3v1h-3zM1182 659h2v1h-2zM1237 659h2v1h-2zM1184 660h1v1h-1zM1231 660h2v1h-2zM1236 660h1v1h-1zM1188 661h3v1h-3zM1230 661h1v1h-1zM1194 662h3v1h-3zM1213 662h2v1h-2zM1218 662h3v1h-3zM1224 662h3v1h-3zM1200 663h3v1h-3zM1206 663h3v1h-3zM1212 663h1v1h-1z" fill="#ff0000"/>
</g>
<text transform="translate(12 546) scale(1 1.1)" fill="#000" stroke="#000" stroke-width="0.18"><tspan x="0.3" textLength="65.3" lengthAdjust="spacingAndGlyphs">MACD(12,26,9)</tspan> <tspan x="69.3" textLength="22.5" lengthAdjust="spacingAndGlyphs">8.744</tspan> <tspan x="95.3" textLength="22.5" lengthAdjust="spacingAndGlyphs">7.360</tspan></text>
<g id="rsi" shape-rendering="crispEdges">
<line x1="9" y1="705.5" x2="1688" y2="705.5" stroke="#c0c0c0" stroke-width="1" stroke-dasharray="3 3"/>
<line x1="9" y1="745.5" x2="1688" y2="745.5" stroke="#c0c0c0" stroke-width="1" stroke-dasharray="3 3"/>
<path d="M85 688h5v1h-5zM80 689h5v1h-5zM90 689h2v1h-2zM79 690h1v1h-1zM92 690h2v1h-2zM1639 690h2v1h-2zM78 691h1v1h-1zM94 691h2v1h-2zM101 691h4v1h-4zM1635 691h4v1h-4zM1641 691h1v1h-1zM77 692h1v1h-1zM96 692h5v1h-5zM104 692h1v1h-1zM1631 692h4v1h-4zM1642 692h1v1h-1zM55 693h6v1h-6zM75 693h2v1h-2zM105 693h1v1h-1zM1605 693h6v1h-6zM1627 693h4v1h-4zM1643 693h2v1h-2zM51 694h4v1h-4zM61 694h6v1h-6zM74 694h1v1h-1zM105 694h1v1h-1zM1600 694h5v1h-5zM1611 694h4v1h-4zM1621 694h6v1h-6zM1645 694h1v1h-1zM1663 694h2v1h-2zM48 695h3v1h-3zM67 695h4v1h-4zM73 695h1v1h-1zM106 695h1v1h-1zM1599 695h1v1h-1zM1615 695h6v1h-6zM1646 695h1v1h-1zM1661 695h2v1h-2zM46 696h2v1h-2zM71 696h2v1h-2zM106 696h1v1h-1zM1598 696h1v1h-1zM1647 696h1v1h-1zM1658 696h3v1h-3zM44 697h2v1h-2zM107 697h1v1h-1zM1598 697h1v1h-1zM1648 697h10v1h-10zM42 698h2v1h-2zM107 698h1v1h-1zM176 698h2v1h-2zM1597 698h1v1h-1zM40 699h2v1h-2zM108 699h1v1h-1zM175 699h1v1h-1zM178 699h2v1h-2zM1596 699h1v1h-1zM39 700h1v1h-1zM108 700h1v1h-1zM174 700h1v1h-1zM180 700h2v1h-2zM1595 700h1v1h-1zM16 701h1v1h-1zM38 701h1v1h-1zM109 701h1v1h-1zM174 701h1v1h-1zM182 701h2v1h-2zM1594 701h1v1h-1zM15 702h1v1h-1zM17 702h1v1h-1zM37 702h1v1h-1zM109 702h1v1h-1zM173 702h1v1h-1zM184 702h3v1h-3zM800 702h1v1h-1zM1594 702h1v1h-1zM14 703h1v1h-1zM18 703h1v1h-1zM35 703h2v1h-2zM110 703h1v1h-1zM172 703h1v1h-1zM187 703h4v1h-4zM799 703h1v1h-1zM801 703h2v1h-2zM1581 703h8v1h-8zM1593 703h1v1h-1zM13 704h1v1h-1zM19 704h2v1h-2zM34 704h1v1h-1zM110 704h1v1h-1zM171 704h1v1h-1zM191 704h2v1h-2zM798 704h1v1h-1zM803 704h1v1h-1zM1576 704h5v1h-5zM1589 704h4v1h-4zM12 705h1v1h-1zM21 705h1v1h-1zM33 705h1v1h-1zM111 705h1v1h-1zM170 705h1v1h-1zM193 705h1v1h-1zM797 705h1v1h-1zM804 705h1v1h-1zM1574 705h2v1h-2zM11 706h1v1h-1zM22 706h1v1h-1zM31 706h2v1h-2zM111 706h1v1h-1zM170 706h1v1h-1zM194 706h1v1h-1zM796 706h1v1h-1zM805 706h2v1h-2zM823 706h11v1h-11zM1572 706h2v1h-2zM10 707h1v1h-1zM23 707h1v1h-1zM27 707h4v1h-4zM112 707h11v1h-11zM144 707h2v1h-2zM169 707h1v1h-1zM194 707h1v1h-1zM795 707h1v1h-1zM807 707h1v1h-1zM821 707h2v1h-2zM834 707h2v1h-2zM1570 707h2v1h-2zM9 708h1v1h-1zM24 708h3v1h-3zM123 708h4v1h-4zM143 708h1v1h-1zM146 708h3v1h-3zM165 708h4v1h-4zM195 708h1v1h-1zM616 708h1v1h-1zM794 708h1v1h-1zM808 708h5v1h-5zM818 708h3v1h-3zM836 708h2v1h-2zM1511 708h14v1h-14zM1568 708h2v1h-2zM8 709h1v1h-1zM127 709h3v1h-3zM141 709h2v1h-2zM149 709h2v1h-2zM157 709h8v1h-8zM196 709h1v1h-1zM615 709h1v1h-1zM617 709h1v1h-1zM793 709h1v1h-1zM813 709h5v1h-5zM838 709h2v1h-2zM1507 709h4v1h-4zM1525 709h4v1h-4zM1566 709h2v1h-2zM130 710h2v1h-2zM140 710h1v1h-1zM151 710h6v1h-6zM197 710h1v1h-1zM614 710h1v1h-1zM617 710h1v1h-1zM789 710h4v1h-4zM840 710h11v1h-11zM1504 710h3v1h-3zM1529 710h2v1h-2zM1564 710h2v1h-2zM132 711h2v1h-2zM139 711h1v1h-1zM198 711h1v1h-1zM613 711h1v1h-1zM618 711h1v1h-1zM784 711h5v1h-5zM851 711h4v1h-4zM1024 711h3v1h-3zM1039 711h2v1h-2zM1503 711h1v1h-1zM1531 711h2v1h-2zM1562 711h2v1h-2zM134 712h2v1h-2zM137 712h2v1h-2zM198 712h1v1h-1zM611 712h2v1h-2zM618 712h1v1h-1zM783 712h1v1h-1zM855 712h3v1h-3zM1023 712h1v1h-1zM1027 712h4v1h-4zM1035 712h4v1h-4zM1041 712h1v1h-1zM1501 712h2v1h-2zM1533 712h1v1h-1zM1557 712h5v1h-5zM136 713h1v1h-1zM199 713h1v1h-1zM610 713h1v1h-1zM619 713h1v1h-1zM783 713h1v1h-1zM858 713h2v1h-2zM957 713h5v1h-5zM975 713h2v1h-2zM1022 713h1v1h-1zM1031 713h4v1h-4zM1041 713h1v1h-1zM1469 713h4v1h-4zM1500 713h1v1h-1zM1534 713h2v1h-2zM1549 713h8v1h-8zM200 714h2v1h-2zM575 714h3v1h-3zM609 714h1v1h-1zM619 714h1v1h-1zM782 714h1v1h-1zM860 714h2v1h-2zM951 714h6v1h-6zM962 714h3v1h-3zM973 714h2v1h-2zM977 714h2v1h-2zM1021 714h1v1h-1zM1042 714h1v1h-1zM1463 714h6v1h-6zM1473 714h2v1h-2zM1499 714h1v1h-1zM1536 714h13v1h-13zM202 715h2v1h-2zM573 715h2v1h-2zM578 715h2v1h-2zM605 715h4v1h-4zM620 715h1v1h-1zM782 715h1v1h-1zM862 715h2v1h-2zM869 715h4v1h-4zM949 715h2v1h-2zM965 715h2v1h-2zM970 715h3v1h-3zM979 715h2v1h-2zM1019 715h2v1h-2zM1043 715h1v1h-1zM1279 715h2v1h-2zM1459 715h4v1h-4zM1475 715h1v1h-1zM1497 715h2v1h-2zM204 716h2v1h-2zM552 716h1v1h-1zM570 716h3v1h-3zM580 716h2v1h-2zM591 716h14v1h-14zM620 716h1v1h-1zM781 716h1v1h-1zM864 716h5v1h-5zM873 716h1v1h-1zM946 716h3v1h-3zM967 716h3v1h-3zM981 716h1v1h-1zM1018 716h1v1h-1zM1044 716h1v1h-1zM1275 716h4v1h-4zM1281 716h2v1h-2zM1311 716h11v1h-11zM1437 716h8v1h-8zM1453 716h6v1h-6zM1476 716h1v1h-1zM1493 716h4v1h-4zM206 717h2v1h-2zM550 717h2v1h-2zM553 717h2v1h-2zM568 717h2v1h-2zM582 717h2v1h-2zM587 717h4v1h-4zM621 717h1v1h-1zM780 717h1v1h-1zM874 717h1v1h-1zM941 717h5v1h-5zM982 717h2v1h-2zM1017 717h1v1h-1zM1044 717h1v1h-1zM1272 717h3v1h-3zM1283 717h1v1h-1zM1307 717h4v1h-4zM1322 717h2v1h-2zM1432 717h5v1h-5zM1445 717h8v1h-8zM1477 717h2v1h-2zM1487 717h6v1h-6zM208 718h1v1h-1zM549 718h1v1h-1zM555 718h2v1h-2zM566 718h2v1h-2zM584 718h3v1h-3zM621 718h1v1h-1zM704 718h2v1h-2zM736 718h10v1h-10zM780 718h1v1h-1zM874 718h1v1h-1zM936 718h5v1h-5zM984 718h1v1h-1zM1016 718h1v1h-1zM1045 718h1v1h-1zM1271 718h1v1h-1zM1284 718h1v1h-1zM1301 718h6v1h-6zM1324 718h2v1h-2zM1431 718h1v1h-1zM1479 718h1v1h-1zM1483 718h4v1h-4zM209 719h1v1h-1zM463 719h11v1h-11zM547 719h2v1h-2zM557 719h1v1h-1zM564 719h2v1h-2zM622 719h1v1h-1zM702 719h2v1h-2zM706 719h2v1h-2zM735 719h1v1h-1zM746 719h3v1h-3zM779 719h1v1h-1zM875 719h1v1h-1zM935 719h1v1h-1zM985 719h2v1h-2zM1014 719h2v1h-2zM1046 719h1v1h-1zM1270 719h1v1h-1zM1285 719h2v1h-2zM1295 719h6v1h-6zM1326 719h2v1h-2zM1429 719h2v1h-2zM1480 719h3v1h-3zM209 720h1v1h-1zM459 720h4v1h-4zM474 720h2v1h-2zM533 720h8v1h-8zM545 720h2v1h-2zM558 720h2v1h-2zM562 720h2v1h-2zM622 720h1v1h-1zM701 720h1v1h-1zM708 720h2v1h-2zM735 720h1v1h-1zM749 720h2v1h-2zM778 720h1v1h-1zM876 720h1v1h-1zM934 720h1v1h-1zM987 720h1v1h-1zM1013 720h1v1h-1zM1047 720h1v1h-1zM1269 720h1v1h-1zM1287 720h1v1h-1zM1291 720h4v1h-4zM1328 720h1v1h-1zM1428 720h1v1h-1zM210 721h1v1h-1zM456 721h3v1h-3zM476 721h2v1h-2zM487 721h2v1h-2zM527 721h6v1h-6zM541 721h4v1h-4zM560 721h2v1h-2zM623 721h1v1h-1zM699 721h2v1h-2zM710 721h2v1h-2zM734 721h1v1h-1zM751 721h12v1h-12zM778 721h1v1h-1zM877 721h1v1h-1zM933 721h1v1h-1zM988 721h1v1h-1zM1011 721h2v1h-2zM1047 721h1v1h-1zM1255 721h3v1h-3zM1267 721h2v1h-2zM1288 721h3v1h-3zM1329 721h2v1h-2zM1427 721h1v1h-1zM211 722h1v1h-1zM317 722h5v1h-5zM455 722h1v1h-1zM478 722h2v1h-2zM483 722h4v1h-4zM489 722h1v1h-1zM523 722h4v1h-4zM623 722h1v1h-1zM697 722h2v1h-2zM712 722h1v1h-1zM734 722h1v1h-1zM763 722h4v1h-4zM777 722h1v1h-1zM878 722h1v1h-1zM931 722h2v1h-2zM989 722h2v1h-2zM1009 722h2v1h-2zM1048 722h2v1h-2zM1251 722h4v1h-4zM1258 722h3v1h-3zM1266 722h1v1h-1zM1331 722h2v1h-2zM1425 722h2v1h-2zM211 723h1v1h-1zM304 723h13v1h-13zM322 723h2v1h-2zM429 723h6v1h-6zM454 723h1v1h-1zM480 723h3v1h-3zM490 723h1v1h-1zM519 723h4v1h-4zM624 723h2v1h-2zM640 723h10v1h-10zM693 723h4v1h-4zM713 723h1v1h-1zM733 723h1v1h-1zM767 723h6v1h-6zM777 723h1v1h-1zM878 723h1v1h-1zM920 723h3v1h-3zM930 723h1v1h-1zM991 723h1v1h-1zM1008 723h1v1h-1zM1050 723h2v1h-2zM1087 723h3v1h-3zM1224 723h5v1h-5zM1237 723h14v1h-14zM1261 723h2v1h-2zM1265 723h1v1h-1zM1333 723h1v1h-1zM1424 723h1v1h-1zM212 724h1v1h-1zM303 724h1v1h-1zM324 724h2v1h-2zM423 724h6v1h-6zM435 724h4v1h-4zM453 724h1v1h-1zM491 724h2v1h-2zM517 724h2v1h-2zM626 724h2v1h-2zM638 724h2v1h-2zM650 724h3v1h-3zM687 724h6v1h-6zM714 724h1v1h-1zM732 724h1v1h-1zM773 724h4v1h-4zM879 724h1v1h-1zM918 724h2v1h-2zM923 724h4v1h-4zM929 724h1v1h-1zM992 724h2v1h-2zM1006 724h2v1h-2zM1052 724h2v1h-2zM1063 724h3v1h-3zM1083 724h4v1h-4zM1090 724h2v1h-2zM1222 724h2v1h-2zM1229 724h8v1h-8zM1263 724h2v1h-2zM1334 724h2v1h-2zM1423 724h1v1h-1zM213 725h1v1h-1zM302 725h1v1h-1zM326 725h2v1h-2zM419 725h4v1h-4zM439 725h3v1h-3zM451 725h2v1h-2zM493 725h1v1h-1zM514 725h3v1h-3zM628 725h2v1h-2zM636 725h2v1h-2zM653 725h2v1h-2zM683 725h4v1h-4zM715 725h2v1h-2zM732 725h1v1h-1zM880 725h3v1h-3zM916 725h2v1h-2zM927 725h2v1h-2zM994 725h3v1h-3zM1004 725h2v1h-2zM1054 725h2v1h-2zM1059 725h4v1h-4zM1066 725h3v1h-3zM1079 725h4v1h-4zM1092 725h2v1h-2zM1208 725h3v1h-3zM1220 725h2v1h-2zM1336 725h5v1h-5zM1421 725h2v1h-2zM213 726h1v1h-1zM224 726h9v1h-9zM301 726h1v1h-1zM328 726h3v1h-3zM416 726h3v1h-3zM442 726h3v1h-3zM450 726h1v1h-1zM494 726h1v1h-1zM503 726h11v1h-11zM630 726h2v1h-2zM634 726h2v1h-2zM655 726h2v1h-2zM679 726h4v1h-4zM717 726h1v1h-1zM731 726h1v1h-1zM883 726h4v1h-4zM914 726h2v1h-2zM997 726h2v1h-2zM1002 726h2v1h-2zM1056 726h3v1h-3zM1069 726h2v1h-2zM1075 726h4v1h-4zM1094 726h2v1h-2zM1207 726h1v1h-1zM1211 726h4v1h-4zM1218 726h2v1h-2zM1341 726h12v1h-12zM1368 726h3v1h-3zM1383 726h3v1h-3zM1400 726h3v1h-3zM1420 726h1v1h-1zM214 727h1v1h-1zM222 727h2v1h-2zM233 727h1v1h-1zM299 727h2v1h-2zM331 727h4v1h-4zM414 727h2v1h-2zM445 727h2v1h-2zM449 727h1v1h-1zM495 727h1v1h-1zM499 727h4v1h-4zM632 727h2v1h-2zM657 727h2v1h-2zM677 727h2v1h-2zM718 727h1v1h-1zM730 727h1v1h-1zM887 727h6v1h-6zM912 727h2v1h-2zM999 727h3v1h-3zM1071 727h4v1h-4zM1096 727h2v1h-2zM1206 727h1v1h-1zM1215 727h3v1h-3zM1353 727h2v1h-2zM1367 727h1v1h-1zM1371 727h4v1h-4zM1379 727h4v1h-4zM1386 727h2v1h-2zM1398 727h2v1h-2zM1403 727h4v1h-4zM1419 727h1v1h-1zM215 728h1v1h-1zM220 728h2v1h-2zM234 728h1v1h-1zM264 728h10v1h-10zM288 728h3v1h-3zM298 728h1v1h-1zM335 728h14v1h-14zM412 728h2v1h-2zM447 728h2v1h-2zM496 728h3v1h-3zM659 728h1v1h-1zM674 728h3v1h-3zM719 728h1v1h-1zM730 728h1v1h-1zM893 728h5v1h-5zM910 728h2v1h-2zM1098 728h2v1h-2zM1205 728h1v1h-1zM1355 728h1v1h-1zM1365 728h2v1h-2zM1375 728h4v1h-4zM1388 728h2v1h-2zM1396 728h2v1h-2zM1407 728h6v1h-6zM1417 728h2v1h-2zM215 729h1v1h-1zM218 729h2v1h-2zM235 729h2v1h-2zM262 729h2v1h-2zM274 729h2v1h-2zM286 729h2v1h-2zM291 729h4v1h-4zM297 729h1v1h-1zM349 729h6v1h-6zM410 729h2v1h-2zM660 729h1v1h-1zM671 729h3v1h-3zM720 729h3v1h-3zM729 729h1v1h-1zM898 729h2v1h-2zM909 729h1v1h-1zM1100 729h2v1h-2zM1204 729h1v1h-1zM1356 729h1v1h-1zM1364 729h1v1h-1zM1390 729h2v1h-2zM1394 729h2v1h-2zM1413 729h4v1h-4zM216 730h2v1h-2zM237 730h1v1h-1zM261 730h1v1h-1zM276 730h2v1h-2zM284 730h2v1h-2zM295 730h2v1h-2zM355 730h4v1h-4zM408 730h2v1h-2zM661 730h2v1h-2zM669 730h2v1h-2zM723 730h4v1h-4zM729 730h1v1h-1zM900 730h2v1h-2zM907 730h2v1h-2zM1102 730h2v1h-2zM1204 730h1v1h-1zM1357 730h2v1h-2zM1363 730h1v1h-1zM1392 730h2v1h-2zM238 731h1v1h-1zM247 731h4v1h-4zM259 731h2v1h-2zM278 731h2v1h-2zM282 731h2v1h-2zM359 731h3v1h-3zM406 731h2v1h-2zM663 731h1v1h-1zM666 731h3v1h-3zM727 731h2v1h-2zM902 731h2v1h-2zM905 731h2v1h-2zM1104 731h3v1h-3zM1203 731h1v1h-1zM1359 731h1v1h-1zM1361 731h2v1h-2zM239 732h1v1h-1zM243 732h4v1h-4zM251 732h4v1h-4zM257 732h2v1h-2zM280 732h2v1h-2zM362 732h2v1h-2zM404 732h2v1h-2zM664 732h2v1h-2zM904 732h1v1h-1zM1107 732h4v1h-4zM1202 732h1v1h-1zM1360 732h1v1h-1zM240 733h3v1h-3zM255 733h2v1h-2zM364 733h2v1h-2zM402 733h2v1h-2zM1111 733h2v1h-2zM1201 733h1v1h-1zM366 734h2v1h-2zM384 734h18v1h-18zM1113 734h1v1h-1zM1200 734h1v1h-1zM368 735h2v1h-2zM382 735h2v1h-2zM1113 735h1v1h-1zM1152 735h2v1h-2zM1198 735h2v1h-2zM370 736h2v1h-2zM381 736h1v1h-1zM1114 736h1v1h-1zM1150 736h2v1h-2zM1154 736h2v1h-2zM1175 736h6v1h-6zM1196 736h2v1h-2zM372 737h2v1h-2zM379 737h2v1h-2zM1115 737h1v1h-1zM1148 737h2v1h-2zM1156 737h2v1h-2zM1171 737h4v1h-4zM1181 737h8v1h-8zM1194 737h2v1h-2zM374 738h2v1h-2zM377 738h2v1h-2zM1116 738h1v1h-1zM1146 738h2v1h-2zM1158 738h2v1h-2zM1165 738h6v1h-6zM1189 738h5v1h-5zM376 739h1v1h-1zM1116 739h1v1h-1zM1144 739h2v1h-2zM1160 739h5v1h-5zM1117 740h1v1h-1zM1142 740h2v1h-2zM1118 741h1v1h-1zM1140 741h2v1h-2zM1119 742h1v1h-1zM1138 742h2v1h-2zM1119 743h1v1h-1zM1135 743h3v1h-3zM1120 744h5v1h-5zM1131 744h4v1h-4zM1125 745h6v1h-6z" fill="#1e90ff"/>
</g>
<text transform="translate(12 687) scale(1 1.1)" fill="#000" stroke="#000" stroke-width="0.18"><tspan x="0.3" textLength="31.5" lengthAdjust="spacingAndGlyphs">RSI(14)</tspan> <tspan x="35.2" textLength="32.5" lengthAdjust="spacingAndGlyphs">81.0310</tspan></text>
<g id="axis">
<rect x="1689" y="66" width="2" height="1" fill="#000"/>
<text transform="translate(1694.5 70) scale(1 1.1)" fill="#000" stroke="#000" stroke-width="0.18">1612.10</text>
<rect x="1689" y="99" width="2" height="1" fill="#000"/>
<text transform="translate(1694.5 103) scale(1 1.1)" fill="#000" stroke="#000" stroke-width="0.18">1605.30</text>
<rect x="1689" y="132" width="2" height="1" fill="#000"/>
<text transform="translate(1694.5 136) scale(1 1.1)" fill="#000" stroke="#000" stroke-width="0.18">1598.50</text>
<rect x="1689" y="165" width="2" height="1" fill="#000"/>
<text transform="translate(1694.5 169) scale(1 1.1)" fill="#000" stroke="#000" stroke-width="0.18">1591.70</text>
<rect x="1689" y="198" width="2" height="1" fill="#000"/>
<text transform="translate(1694.5 202) scale(1 1.1)" fill="#000" stroke="#000" stroke-width="0.18">1584.70</text>
<rect x="1689" y="231" width="2" height="1" fill="#000"/>
<text transform="translate(1694.5 235) scale(1 1.1)" fill="#000" stroke="#000" stroke-width="0.18">1577.90</text>
<rect x="1689" y="264" width="2" height="1" fill="#000"/>
<text transform="translate(1694.5 268) scale(1 1.1)" fill="#000" stroke="#000" stroke-width="0.18">1571.10</text>
<rect x="1689" y="297" width="2" height="1" fill="#000"/>
<text transform="translate(1694.5 301) scale(1 1.1)" fill="#000" stroke="#000" stroke-width="0.18">1564.30</text>
<rect x="1689" y="330" width="2" height="1" fill="#000"/>
<text transform="translate(1694.5 334) scale(1 1.1)" fill="#000" stroke="#000" stroke-width="0.18">1557.50</text>
<rect x="1689" y="363" width="2" height="1" fill="#000"/>
<text transform="translate(1694.5 367) scale(1 1.1)" fill="#000" stroke="#000" stroke-width="0.18">1550.50</text>
<rect x="1689" y="396" width="2" height="1" fill="#000"/>
<text transform="translate(1694.5 400) scale(1 1.1)" fill="#000" stroke="#000" stroke-width="0.18">1543.70</text>
<rect x="1689" y="429" width="2" height="1" fill="#000"/>
<text transform="translate(1694.5 433) scale(1 1.1)" fill="#000" stroke="#000" stroke-width="0.18">1536.90</text>
<rect x="1689" y="462" width="2" height="1" fill="#000"/>
<text transform="translate(1694.5 466) scale(1 1.1)" fill="#000" stroke="#000" stroke-width="0.18">1530.10</text>
<rect x="1689" y="495" width="2" height="1" fill="#000"/>
<text transform="translate(1694.5 499) scale(1 1.1)" fill="#000" stroke="#000" stroke-width="0.18">1523.30</text>
<rect x="1689" y="528" width="2" height="1" fill="#000"/>
<text transform="translate(1694.5 532) scale(1 1.1)" fill="#000" stroke="#000" stroke-width="0.18">1516.50</text>
<rect x="1690" y="69" width="41" height="1" fill="#000"/>
<rect x="1690" y="70" width="41" height="11" fill="#00ff7f"/>
<text transform="translate(1694.5 79) scale(1 1.1)" fill="#fff" stroke="#fff" stroke-width="0.18">1610.00</text>
<rect x="1690" y="239" width="41" height="11" fill="#4169e1"/>
<text transform="translate(1694.5 248) scale(1 1.1)" fill="#fff" stroke="#fff" stroke-width="0.18">1575.00</text>
<rect x="1690" y="297" width="41" height="11" fill="#4169e1"/>
<text transform="translate(1694.5 306) scale(1 1.1)" fill="#fff" stroke="#fff" stroke-width="0.18">1563.00</text>
<rect x="1690" y="374" width="41" height="11" fill="#4169e1"/>
<text transform="translate(1694.5 383) scale(1 1.1)" fill="#fff" stroke="#fff" stroke-width="0.18">1547.00</text>
<rect x="1689" y="535" width="1" height="1" fill="#000"/>
<text transform="translate(1692.2 544) scale(1 1.1)" fill="#000" stroke="#000" stroke-width="0.18">17.395</text>
<rect x="1689" y="633" width="1" height="1" fill="#000"/>
<text transform="translate(1692.2 637) scale(1 1.1)" fill="#000" stroke="#000" stroke-width="0.18">0.00</text>
<rect x="1689" y="671" width="1" height="1" fill="#000"/>
<text transform="translate(1692.2 669) scale(1 1.1)" fill="#000" stroke="#000" stroke-width="0.18">-6.801</text>
<rect x="1689" y="676" width="1" height="1" fill="#000"/>
<rect x="1689" y="774" width="1" height="1" fill="#000"/>
<text transform="translate(1692.3 685) scale(1 1.1)" fill="#000" stroke="#000" stroke-width="0.18">100</text>
<text transform="translate(1692.3 709) scale(1 1.1)" fill="#000" stroke="#000" stroke-width="0.18">70</text>
<text transform="translate(1692.3 749) scale(1 1.1)" fill="#000" stroke="#000" stroke-width="0.18">30</text>
<text transform="translate(1692.3 772) scale(1 1.1)" fill="#000" stroke="#000" stroke-width="0.18">0</text>
</g>
<g id="time">
<rect x="8" y="776" width="1" height="3" fill="#000"/>
<text transform="translate(6.7 788) scale(1 1.1)" fill="#000" stroke="#000" stroke-width="0.18" letter-spacing="0.13">2 Jan 2020</text>
<rect x="72" y="776" width="1" height="3" fill="#000"/>
<text transform="translate(70.7 788) scale(1 1.1)" fill="#000" stroke="#000" stroke-width="0.18" letter-spacing="0.13">3 Jan 16:00</text>
<rect x="136" y="776" width="1" height="3" fill="#000"/>
<text transform="translate(134.7 788) scale(1 1.1)" fill="#000" stroke="#000" stroke-width="0.18" letter-spacing="0.13">7 Jan 00:00</text>
<rect x="200" y="776" width="1" height="3" fill="#000"/>
<text transform="translate(198.7 788) scale(1 1.1)" fill="#000" stroke="#000" stroke-width="0.18" letter-spacing="0.13">8 Jan 08:00</text>
<rect x="264" y="776" width="1" height="3" fill="#000"/>
<text transform="translate(262.7 788) scale(1 1.1)" fill="#000" stroke="#000" stroke-width="0.18" letter-spacing="0.13">9 Jan 16:00</text>
<rect x="328" y="776" width="1" height="3" fill="#000"/>
<text transform="translate(326.7 788) scale(1 1.1)" fill="#000" stroke="#000" stroke-width="0.18" letter-spacing="0.13">13 Jan 00:00</text>
<rect x="392" y="776" width="1" height="3" fill="#000"/>
<text transform="translate(390.7 788) scale(1 1.1)" fill="#000" stroke="#000" stroke-width="0.18" letter-spacing="0.13">14 Jan 08:00</text>
<rect x="456" y="776" width="1" height="3" fill="#000"/>
<text transform="translate(454.7 788) scale(1 1.1)" fill="#000" stroke="#000" stroke-width="0.18" letter-spacing="0.13">15 Jan 16:00</text>
<rect x="520" y="776" width="1" height="3" fill="#000"/>
<text transform="translate(518.7 788) scale(1 1.1)" fill="#000" stroke="#000" stroke-width="0.18" letter-spacing="0.13">17 Jan 00:00</text>
<rect x="584" y="776" width="1" height="3" fill="#000"/>
<text transform="translate(582.7 788) scale(1 1.1)" fill="#000" stroke="#000" stroke-width="0.18" letter-spacing="0.13">20 Jan 08:00</text>
<rect x="648" y="776" width="1" height="3" fill="#000"/>
<text transform="translate(646.7 788) scale(1 1.1)" fill="#000" stroke="#000" stroke-width="0.18" letter-spacing="0.13">21 Jan 16:00</text>
<rect x="712" y="776" width="1" height="3" fill="#000"/>
<text transform="translate(710.7 788) scale(1 1.1)" fill="#000" stroke="#000" stroke-width="0.18" letter-spacing="0.13">23 Jan 00:00</text>
<rect x="776" y="776" width="1" height="3" fill="#000"/>
<text transform="translate(774.7 788) scale(1 1.1)" fill="#000" stroke="#000" stroke-width="0.18" letter-spacing="0.13">24 Jan 08:00</text>
<rect x="840" y="776" width="1" height="3" fill="#000"/>
<text transform="translate(838.7 788) scale(1 1.1)" fill="#000" stroke="#000" stroke-width="0.18" letter-spacing="0.13">27 Jan 16:00</text>
<rect x="904" y="776" width="1" height="3" fill="#000"/>
<text transform="translate(902.7 788) scale(1 1.1)" fill="#000" stroke="#000" stroke-width="0.18" letter-spacing="0.13">29 Jan 00:00</text>
<rect x="968" y="776" width="1" height="3" fill="#000"/>
<text transform="translate(966.7 788) scale(1 1.1)" fill="#000" stroke="#000" stroke-width="0.18" letter-spacing="0.13">30 Jan 08:00</text>
<rect x="1032" y="776" width="1" height="3" fill="#000"/>
<text transform="translate(1030.7 788) scale(1 1.1)" fill="#000" stroke="#000" stroke-width="0.18" letter-spacing="0.13">31 Jan 16:00</text>
<rect x="1096" y="776" width="1" height="3" fill="#000"/>
<text transform="translate(1094.7 788) scale(1 1.1)" fill="#000" stroke="#000" stroke-width="0.18" letter-spacing="0.13">4 Feb 00:00</text>
<rect x="1160" y="776" width="1" height="3" fill="#000"/>
<text transform="translate(1158.7 788) scale(1 1.1)" fill="#000" stroke="#000" stroke-width="0.18" letter-spacing="0.13">5 Feb 08:00</text>
<rect x="1224" y="776" width="1" height="3" fill="#000"/>
<text transform="translate(1222.7 788) scale(1 1.1)" fill="#000" stroke="#000" stroke-width="0.18" letter-spacing="0.13">6 Feb 16:00</text>
<rect x="1288" y="776" width="1" height="3" fill="#000"/>
<text transform="translate(1286.7 788) scale(1 1.1)" fill="#000" stroke="#000" stroke-width="0.18" letter-spacing="0.13">10 Feb 00:00</text>
<rect x="1352" y="776" width="1" height="3" fill="#000"/>
<text transform="translate(1350.7 788) scale(1 1.1)" fill="#000" stroke="#000" stroke-width="0.18" letter-spacing="0.13">11 Feb 08:00</text>
<rect x="1416" y="776" width="1" height="3" fill="#000"/>
<text transform="translate(1414.7 788) scale(1 1.1)" fill="#000" stroke="#000" stroke-width="0.18" letter-spacing="0.13">12 Feb 16:00</text>
<rect x="1480" y="776" width="1" height="3" fill="#000"/>
<text transform="translate(1478.7 788) scale(1 1.1)" fill="#000" stroke="#000" stroke-width="0.18" letter-spacing="0.13">14 Feb 00:00</text>
<rect x="1544" y="776" width="1" height="3" fill="#000"/>
<text transform="translate(1542.7 788) scale(1 1.1)" fill="#000" stroke="#000" stroke-width="0.18" letter-spacing="0.13">17 Feb 08:00</text>
<rect x="1608" y="776" width="1" height="3" fill="#000"/>
<text transform="translate(1606.7 788) scale(1 1.1)" fill="#000" stroke="#000" stroke-width="0.18" letter-spacing="0.13">18 Feb 16:00</text>
</g>
</svg>
</body></html>
